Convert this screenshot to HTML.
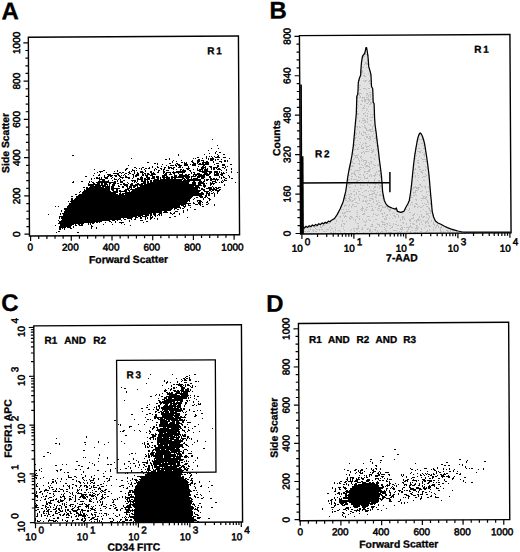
<!DOCTYPE html>
<html><head><meta charset="utf-8"><style>
html,body{margin:0;padding:0;background:#fff;width:520px;height:552px;overflow:hidden}
svg{display:block}
text{font-family:"Liberation Sans",sans-serif}
</style></head><body>
<svg width="520" height="552" viewBox="0 0 520 552">
<rect width="520" height="552" fill="#fff"/>
<path d="M302.8 226.9 L304.4 228.0 L306.0 226.3 L307.6 227.4 L309.2 225.7 L310.8 226.7 L312.4 225.0 L314.0 226.1 L315.6 224.4 L317.2 225.5 L318.8 223.7 L320.4 224.6 L322.0 222.9 L323.6 223.9 L325.2 222.2 L326.8 223.1 L328.4 221.1 L330.0 221.8 L330.8 220.8 L334.5 218.5 L337.3 214.4 L340.2 208.7 L343.1 201.9 L345.7 191.7 L346.8 184.0 L347.8 176.5 L349.0 170.0 L350.4 163.5 L352.0 155.0 L353.3 146.1 L354.4 134.0 L355.4 123.1 L356.3 113.5 L356.6 104.0 L356.8 96.2 L357.8 94.2 L358.1 88.0 L358.3 82.7 L359.2 78.8 L360.7 75.0 L360.8 70.8 L361.5 62.3 L362.5 56.2 L364.6 53.5 L365.2 51.5 L365.9 47.5 L366.6 47.5 L367.3 51.5 L368.1 57.7 L368.8 66.9 L370.4 72.3 L371.0 75.0 L371.5 86.5 L372.7 88.5 L373.2 101.9 L374.1 103.8 L374.6 118.3 L375.1 125.0 L376.2 133.0 L377.2 141.7 L378.3 150.0 L379.3 159.1 L380.5 168.0 L381.5 176.5 L382.1 184.0 L382.6 191.7 L384.3 200.4 L385.8 203.5 L387.6 205.9 L390.0 207.2 L392.0 208.0 L395.2 209.1 L396.3 208.0 L397.4 211.3 L400.7 212.4 L403.9 211.3 L406.0 207.0 L408.0 203.5 L409.3 200.4 L410.5 193.0 L411.5 185.2 L412.6 174.0 L413.7 163.5 L414.8 155.0 L415.9 148.3 L417.0 142.0 L418.0 137.4 L419.0 134.5 L420.2 133.0 L421.3 134.0 L422.4 136.3 L423.5 139.5 L424.6 143.9 L425.6 150.0 L426.7 157.0 L427.8 165.0 L428.9 174.3 L429.7 183.0 L430.4 191.7 L431.3 201.0 L432.2 211.3 L433.6 217.0 L435.4 221.0 L438.0 223.0 L440.9 224.3 L444.0 226.0 L447.4 227.6 L450.6 228.8 L453.9 229.8 L458.0 231.0 L462.6 232.0 L467.0 232.2 L510.5 232.2 L510.5 233.2 L302.6 233.8 Z" fill="#e2e2e2" stroke="none"/><path d="M367 52.5h1M364 53.5h2M365 54.5h2M367 55.5h2M363 56.5h2M363 57.5h1M367 60.5h1M365 62.5h2M365 63.5h3M364 64.5h1M366 64.5h2M362 67.5h2M366 67.5h1M368 67.5h1M361 70.5h2M361 71.5h2M361 72.5h2M360 73.5h1M364 73.5h1M368 73.5h1M363 75.5h2M369 75.5h2M364 76.5h2M359 79.5h1M359 80.5h1M363 80.5h1M365 80.5h2M369 80.5h2M364 81.5h2M368 81.5h2M369 83.5h2M359 85.5h2M359 87.5h1M363 88.5h3M368 88.5h2M359 89.5h2M366 89.5h1M369 92.5h2M357 93.5h5M366 93.5h2M372 93.5h1M359 94.5h1M367 94.5h1M369 94.5h2M359 95.5h1M366 95.5h1M368 95.5h1M370 95.5h1M373 95.5h1M357 96.5h1M360 96.5h1M368 96.5h1M370 96.5h1M357 97.5h1M359 97.5h2M362 97.5h3M366 97.5h2M370 97.5h1M357 98.5h1M362 98.5h1M364 98.5h1M368 98.5h1M372 98.5h1M356 99.5h1M364 99.5h7M372 99.5h1M361 100.5h2M364 100.5h2M368 100.5h2M358 101.5h1M362 101.5h1M364 101.5h2M369 101.5h1M372 101.5h1M368 102.5h1M370 102.5h3M366 103.5h2M370 103.5h2M356 104.5h2M360 104.5h2M369 104.5h2M356 105.5h1M364 105.5h1M358 106.5h1M364 106.5h1M368 106.5h1M363 107.5h1M356 108.5h2M362 108.5h3M366 108.5h1M356 109.5h1M367 109.5h1M362 110.5h1M366 110.5h1M357 111.5h1M368 111.5h1M365 112.5h1M357 113.5h2M363 113.5h2M367 113.5h1M357 114.5h2M363 114.5h1M370 114.5h1M372 114.5h2M365 115.5h1M367 115.5h1M365 116.5h1M367 116.5h1M372 116.5h1M357 117.5h1M370 117.5h3M362 118.5h2M367 118.5h1M364 119.5h1M367 119.5h1M359 120.5h1M362 120.5h4M370 120.5h2M359 121.5h1M365 121.5h1M367 121.5h1M361 122.5h1M364 122.5h2M367 122.5h1M363 123.5h1M368 124.5h1M370 124.5h1M364 125.5h1M370 125.5h1M373 125.5h1M356 126.5h2M359 126.5h1M362 126.5h1M365 126.5h1M372 126.5h1M357 127.5h1M359 127.5h2M364 127.5h2M372 127.5h1M365 128.5h2M372 128.5h1M375 128.5h1M357 129.5h1M366 129.5h1M369 129.5h4M366 130.5h5M374 130.5h2M359 131.5h1M363 131.5h1M370 131.5h4M354 132.5h2M359 132.5h1M363 132.5h3M376 132.5h1M355 133.5h2M359 133.5h1M361 133.5h1M365 133.5h1M373 133.5h1M356 134.5h1M361 134.5h1M366 134.5h1M368 134.5h1M354 135.5h2M362 135.5h2M372 135.5h1M358 136.5h1M366 136.5h2M369 136.5h2M372 136.5h1M375 136.5h1M355 137.5h2M366 137.5h2M370 137.5h1M375 137.5h1M354 138.5h2M359 138.5h2M364 138.5h1M368 138.5h3M374 138.5h3M422 138.5h1M354 139.5h1M365 139.5h1M370 139.5h1M377 139.5h1M419 139.5h1M421 139.5h3M354 140.5h1M357 140.5h1M369 140.5h1M377 140.5h1M373 141.5h1M353 142.5h1M360 142.5h1M365 142.5h1M375 142.5h1M363 143.5h1M365 143.5h2M421 143.5h2M354 144.5h1M356 144.5h1M359 144.5h1M362 144.5h1M377 144.5h1M418 144.5h1M424 144.5h1M354 145.5h2M361 145.5h1M365 145.5h1M369 145.5h2M376 145.5h1M423 145.5h2M361 146.5h1M366 146.5h3M377 146.5h2M358 147.5h1M362 147.5h2M366 147.5h1M357 148.5h1M361 148.5h3M371 148.5h1M415 148.5h1M418 148.5h2M423 148.5h2M354 149.5h2M357 149.5h2M366 149.5h2M369 149.5h1M373 149.5h1M376 149.5h1M371 150.5h3M421 150.5h1M363 151.5h1M365 151.5h4M372 151.5h2M417 151.5h4M425 151.5h1M361 152.5h2M364 152.5h1M371 152.5h2M419 152.5h2M422 152.5h1M425 152.5h1M353 153.5h1M361 153.5h1M364 153.5h1M414 153.5h2M424 153.5h1M353 154.5h1M358 154.5h1M375 154.5h1M423 154.5h2M354 155.5h4M375 155.5h1M416 155.5h1M424 155.5h1M355 156.5h1M357 156.5h1M360 156.5h2M419 156.5h1M424 156.5h1M355 157.5h3M360 157.5h1M370 157.5h2M426 157.5h1M354 158.5h1M358 158.5h1M361 158.5h1M374 158.5h1M415 158.5h1M421 158.5h1M353 159.5h1M358 159.5h1M362 159.5h1M374 159.5h1M422 159.5h4M359 160.5h1M361 160.5h1M363 160.5h4M417 160.5h2M352 161.5h1M359 161.5h1M363 161.5h1M366 161.5h1M370 161.5h2M379 161.5h1M423 161.5h1M425 161.5h2M351 162.5h2M365 162.5h2M368 162.5h1M371 162.5h1M417 162.5h2M353 163.5h2M358 163.5h2M365 163.5h1M369 163.5h1M371 163.5h1M418 163.5h1M350 164.5h1M359 164.5h1M361 164.5h1M364 164.5h2M369 164.5h1M373 164.5h1M378 164.5h2M413 164.5h2M350 165.5h1M352 165.5h1M362 165.5h1M366 165.5h2M374 165.5h2M377 165.5h2M351 166.5h3M365 166.5h5M418 166.5h2M425 166.5h1M349 167.5h1M359 167.5h3M363 167.5h1M369 167.5h1M374 167.5h1M418 167.5h2M426 167.5h1M359 168.5h1M364 168.5h1M372 168.5h1M415 168.5h1M427 168.5h1M350 169.5h2M360 169.5h1M369 169.5h2M414 169.5h2M419 169.5h2M425 169.5h1M349 170.5h1M355 170.5h5M368 170.5h2M378 170.5h3M422 170.5h2M425 170.5h1M354 171.5h1M364 171.5h2M367 171.5h3M376 171.5h1M378 171.5h2M420 171.5h2M354 172.5h1M358 172.5h1M364 172.5h1M376 172.5h1M414 172.5h1M421 172.5h2M351 173.5h4M366 173.5h2M375 173.5h1M380 173.5h2M414 173.5h1M417 173.5h1M422 173.5h1M351 174.5h1M354 174.5h2M359 174.5h2M363 174.5h1M370 174.5h1M375 174.5h1M377 174.5h1M379 174.5h1M425 174.5h1M428 174.5h1M348 175.5h2M355 175.5h1M363 175.5h1M369 175.5h1M371 175.5h1M373 175.5h3M379 175.5h1M415 175.5h1M418 175.5h1M426 175.5h1M428 175.5h1M351 176.5h2M356 176.5h1M358 176.5h1M364 176.5h1M369 176.5h1M371 176.5h1M374 176.5h1M380 176.5h1M412 176.5h2M415 176.5h1M423 176.5h3M358 177.5h3M364 177.5h1M367 177.5h1M380 177.5h1M415 177.5h1M418 177.5h1M422 177.5h1M351 178.5h1M364 178.5h4M375 178.5h1M348 179.5h2M351 179.5h1M353 179.5h4M360 179.5h1M374 179.5h1M347 180.5h2M357 180.5h3M362 180.5h1M368 180.5h1M374 180.5h1M378 180.5h2M417 180.5h1M423 180.5h2M356 181.5h2M368 181.5h1M374 181.5h1M378 181.5h2M351 182.5h1M359 182.5h2M364 182.5h1M368 182.5h1M376 182.5h1M381 182.5h2M349 183.5h1M351 183.5h1M371 183.5h1M373 183.5h4M381 183.5h2M348 184.5h3M360 184.5h1M367 184.5h1M375 184.5h1M378 184.5h1M419 184.5h2M346 185.5h1M355 185.5h1M360 185.5h1M362 185.5h2M367 185.5h1M379 185.5h2M420 185.5h1M346 186.5h1M348 186.5h1M355 186.5h1M369 186.5h1M374 186.5h2M380 186.5h2M415 186.5h1M421 186.5h2M424 186.5h2M428 186.5h1M349 187.5h2M369 187.5h1M374 187.5h2M377 187.5h1M379 187.5h1M413 187.5h7M425 187.5h1M428 187.5h1M360 188.5h2M373 188.5h1M379 188.5h1M382 188.5h1M413 188.5h1M416 188.5h3M425 188.5h1M430 188.5h1M354 189.5h1M357 189.5h1M382 189.5h1M412 189.5h1M418 189.5h1M350 190.5h1M365 190.5h2M370 190.5h2M374 190.5h2M415 190.5h3M422 190.5h1M353 191.5h2M358 191.5h2M364 191.5h1M368 191.5h1M372 191.5h2M380 191.5h1M415 191.5h1M420 191.5h2M426 191.5h1M428 191.5h1M356 192.5h1M362 192.5h1M374 192.5h1M377 192.5h1M413 192.5h3M426 192.5h1M350 193.5h2M356 193.5h1M372 193.5h3M413 193.5h1M344 194.5h1M348 194.5h2M351 194.5h1M354 194.5h1M356 194.5h1M359 194.5h2M369 194.5h4M375 194.5h2M379 194.5h2M382 194.5h1M415 194.5h1M427 194.5h1M344 195.5h3M354 195.5h1M362 195.5h2M369 195.5h1M376 195.5h1M379 195.5h2M382 195.5h1M411 195.5h1M413 195.5h2M416 195.5h1M422 195.5h1M429 195.5h1M349 196.5h2M358 196.5h1M364 196.5h3M372 196.5h1M375 196.5h1M382 196.5h1M423 196.5h2M426 196.5h1M344 197.5h2M349 197.5h1M351 197.5h1M358 197.5h1M364 197.5h1M366 197.5h1M375 197.5h2M383 197.5h1M411 197.5h2M423 197.5h1M425 197.5h2M344 198.5h3M348 198.5h2M354 198.5h2M359 198.5h1M369 198.5h4M382 198.5h2M421 198.5h5M345 199.5h1M349 199.5h2M354 199.5h1M359 199.5h1M372 199.5h2M415 199.5h2M426 199.5h1M345 200.5h2M349 200.5h2M352 200.5h2M359 200.5h1M363 200.5h1M365 200.5h1M367 200.5h1M369 200.5h2M376 200.5h1M378 200.5h1M410 200.5h1M416 200.5h1M421 200.5h1M427 200.5h1M431 200.5h1M347 201.5h2M351 201.5h2M362 201.5h2M365 201.5h2M373 201.5h1M376 201.5h1M427 201.5h1M355 202.5h2M366 202.5h1M373 202.5h1M378 202.5h2M411 202.5h2M427 202.5h2M357 203.5h2M368 203.5h2M377 203.5h1M415 203.5h2M422 203.5h1M424 203.5h1M430 203.5h2M345 204.5h1M349 204.5h1M352 204.5h2M367 204.5h1M371 204.5h1M376 204.5h2M410 204.5h1M412 204.5h1M416 204.5h2M425 204.5h2M428 204.5h1M430 204.5h1M344 205.5h3M349 205.5h1M352 205.5h1M379 205.5h3M408 205.5h1M414 205.5h1M423 205.5h1M344 206.5h1M348 206.5h1M351 206.5h1M354 206.5h3M362 206.5h1M369 206.5h1M371 206.5h2M378 206.5h2M382 206.5h1M385 206.5h2M414 206.5h2M418 206.5h2M422 206.5h1M426 206.5h2M340 207.5h1M351 207.5h1M362 207.5h1M366 207.5h2M375 207.5h1M382 207.5h4M387 207.5h1M389 207.5h1M414 207.5h1M417 207.5h1M420 207.5h2M428 207.5h1M361 208.5h3M372 208.5h1M378 208.5h2M387 208.5h1M390 208.5h1M409 208.5h1M428 208.5h2M341 209.5h1M343 209.5h1M346 209.5h1M348 209.5h1M360 209.5h1M362 209.5h1M365 209.5h2M372 209.5h1M377 209.5h1M381 209.5h1M388 209.5h3M405 209.5h2M409 209.5h1M423 209.5h1M429 209.5h1M357 210.5h1M361 210.5h2M366 210.5h1M371 210.5h3M378 210.5h1M380 210.5h2M389 210.5h2M396 210.5h1M408 210.5h1M429 210.5h2M432 210.5h1M346 211.5h5M364 211.5h1M380 211.5h1M389 211.5h1M396 211.5h1M420 211.5h1M425 211.5h2M430 211.5h1M342 212.5h1M344 212.5h2M356 212.5h2M384 212.5h1M393 212.5h1M401 212.5h1M409 212.5h2M430 212.5h1M342 213.5h3M363 213.5h2M373 213.5h1M381 213.5h2M384 213.5h1M392 213.5h1M394 213.5h1M402 213.5h1M414 213.5h1M426 213.5h3M430 213.5h1M357 214.5h1M362 214.5h3M373 214.5h1M375 214.5h1M378 214.5h1M382 214.5h1M387 214.5h1M390 214.5h1M396 214.5h2M413 214.5h2M417 214.5h1M421 214.5h1M426 214.5h2M336 215.5h1M343 215.5h1M345 215.5h1M376 215.5h2M386 215.5h2M393 215.5h2M398 215.5h1M412 215.5h2M421 215.5h1M428 215.5h1M433 215.5h1M336 216.5h1M339 216.5h2M344 216.5h3M350 216.5h2M356 216.5h2M359 216.5h1M367 216.5h3M372 216.5h1M382 216.5h2M385 216.5h1M394 216.5h2M398 216.5h1M402 216.5h2M419 216.5h1M421 216.5h1M423 216.5h2M429 216.5h1M340 217.5h1M344 217.5h1M349 217.5h1M351 217.5h2M357 217.5h1M386 217.5h1M395 217.5h1M398 217.5h1M402 217.5h2M413 217.5h1M419 217.5h1M422 217.5h2M426 217.5h1M429 217.5h1M335 218.5h1M349 218.5h2M359 218.5h1M384 218.5h1M386 218.5h1M389 218.5h1M392 218.5h1M402 218.5h1M404 218.5h1M411 218.5h3M418 218.5h1M428 218.5h1M333 219.5h2M350 219.5h1M353 219.5h1M355 219.5h1M359 219.5h1M362 219.5h1M368 219.5h1M375 219.5h2M384 219.5h3M400 219.5h1M402 219.5h1M404 219.5h1M409 219.5h2M417 219.5h2M420 219.5h1M428 219.5h1M331 220.5h1M336 220.5h1M342 220.5h1M355 220.5h1M366 220.5h1M369 220.5h2M400 220.5h1M409 220.5h2M414 220.5h1M416 220.5h4M423 220.5h1M427 220.5h1M431 220.5h1M336 221.5h1M342 221.5h1M346 221.5h1M363 221.5h2M366 221.5h1M373 221.5h1M381 221.5h2M396 221.5h1M410 221.5h1M416 221.5h1M421 221.5h1M425 221.5h3M431 221.5h1M435 221.5h1M355 222.5h1M365 222.5h1M382 222.5h3M402 222.5h2M416 222.5h1M421 222.5h1M425 222.5h2M428 222.5h1M433 222.5h1M324 223.5h3M328 223.5h2M335 223.5h1M343 223.5h2M357 223.5h2M377 223.5h1M386 223.5h2M389 223.5h1M393 223.5h1M403 223.5h1M406 223.5h1M410 223.5h1M412 223.5h2M419 223.5h1M425 223.5h1M428 223.5h1M433 223.5h1M438 223.5h1M318 224.5h1M341 224.5h1M344 224.5h1M365 224.5h1M371 224.5h2M377 224.5h3M382 224.5h4M387 224.5h1M393 224.5h1M395 224.5h2M406 224.5h1M413 224.5h2M419 224.5h1M422 224.5h1M433 224.5h2M437 224.5h1M312 225.5h1M322 225.5h3M341 225.5h1M358 225.5h1M364 225.5h2M372 225.5h1M379 225.5h1M384 225.5h1M389 225.5h2M397 225.5h2M400 225.5h2M410 225.5h1M416 225.5h1M425 225.5h1M428 225.5h2M434 225.5h1M436 225.5h2M442 225.5h1M315 226.5h2M320 226.5h1M322 226.5h1M330 226.5h1M341 226.5h1M343 226.5h1M358 226.5h1M370 226.5h3M379 226.5h1M381 226.5h1M386 226.5h1M392 226.5h1M409 226.5h2M416 226.5h2M426 226.5h1M429 226.5h2M436 226.5h1M438 226.5h1M441 226.5h1M309 227.5h1M314 227.5h1M320 227.5h2M329 227.5h1M335 227.5h1M358 227.5h1M362 227.5h1M375 227.5h2M384 227.5h1M391 227.5h2M401 227.5h2M404 227.5h1M406 227.5h4M411 227.5h2M416 227.5h1M418 227.5h1M424 227.5h1M433 227.5h1M435 227.5h1M438 227.5h1M440 227.5h2M310 228.5h1M315 228.5h1M331 228.5h2M343 228.5h1M353 228.5h2M356 228.5h3M362 228.5h1M367 228.5h2M385 228.5h1M390 228.5h1M397 228.5h1M400 228.5h1M402 228.5h1M408 228.5h1M415 228.5h3M421 228.5h1M435 228.5h1M440 228.5h1M303 229.5h2M308 229.5h1M310 229.5h1M313 229.5h1M316 229.5h2M319 229.5h1M321 229.5h2M326 229.5h3M335 229.5h1M351 229.5h1M356 229.5h2M361 229.5h2M367 229.5h1M369 229.5h2M374 229.5h2M384 229.5h1M400 229.5h3M408 229.5h1M417 229.5h1M421 229.5h1M429 229.5h1M433 229.5h1M440 229.5h1M312 230.5h2M319 230.5h1M330 230.5h1M335 230.5h1M338 230.5h2M344 230.5h1M350 230.5h1M354 230.5h1M369 230.5h2M375 230.5h1M377 230.5h1M385 230.5h2M393 230.5h4M407 230.5h1M412 230.5h1M415 230.5h2M427 230.5h1M429 230.5h1M433 230.5h1M440 230.5h1M446 230.5h2M450 230.5h1M452 230.5h4M303 231.5h3M307 231.5h3M313 231.5h1M315 231.5h2M323 231.5h2M326 231.5h1M333 231.5h1M340 231.5h1M354 231.5h1M359 231.5h1M369 231.5h2M372 231.5h1M377 231.5h1M381 231.5h2M386 231.5h1M399 231.5h1M401 231.5h1M406 231.5h2M410 231.5h1M420 231.5h2M426 231.5h2M440 231.5h2M443 231.5h1M447 231.5h2M450 231.5h1M456 231.5h1M303 232.5h1M330 232.5h2M333 232.5h1M335 232.5h1M340 232.5h1M344 232.5h1M351 232.5h1M356 232.5h2M363 232.5h1M371 232.5h1M376 232.5h1M378 232.5h1M380 232.5h1M382 232.5h1M386 232.5h1M388 232.5h4M397 232.5h2M400 232.5h1M410 232.5h1M414 232.5h2M417 232.5h1M425 232.5h1M429 232.5h1M440 232.5h1M443 232.5h1M449 232.5h1M457 232.5h1M461 232.5h1M463 232.5h2M482 232.5h1M490 232.5h2M507 232.5h2M304 233.5h1M310 233.5h4M335 233.5h1M337 233.5h1M340 233.5h2M343 233.5h2M346 233.5h1M360 233.5h3M364 233.5h1M376 233.5h2M382 233.5h1M390 233.5h2M394 233.5h2M409 233.5h1M415 233.5h3M420 233.5h2M425 233.5h2M429 233.5h1M435 233.5h1M437 233.5h1M440 233.5h1M449 233.5h1M452 233.5h1M461 233.5h1M464 233.5h2M472 233.5h3M482 233.5h1M495 233.5h2" stroke="#bebebe" stroke-width="1" fill="none"/><path d="M302.8 226.9 L304.4 228.0 L306.0 226.3 L307.6 227.4 L309.2 225.7 L310.8 226.7 L312.4 225.0 L314.0 226.1 L315.6 224.4 L317.2 225.5 L318.8 223.7 L320.4 224.6 L322.0 222.9 L323.6 223.9 L325.2 222.2 L326.8 223.1 L328.4 221.1 L330.0 221.8 L330.8 220.8 L334.5 218.5 L337.3 214.4 L340.2 208.7 L343.1 201.9 L345.7 191.7 L346.8 184.0 L347.8 176.5 L349.0 170.0 L350.4 163.5 L352.0 155.0 L353.3 146.1 L354.4 134.0 L355.4 123.1 L356.3 113.5 L356.6 104.0 L356.8 96.2 L357.8 94.2 L358.1 88.0 L358.3 82.7 L359.2 78.8 L360.7 75.0 L360.8 70.8 L361.5 62.3 L362.5 56.2 L364.6 53.5 L365.2 51.5 L365.9 47.5 L366.6 47.5 L367.3 51.5 L368.1 57.7 L368.8 66.9 L370.4 72.3 L371.0 75.0 L371.5 86.5 L372.7 88.5 L373.2 101.9 L374.1 103.8 L374.6 118.3 L375.1 125.0 L376.2 133.0 L377.2 141.7 L378.3 150.0 L379.3 159.1 L380.5 168.0 L381.5 176.5 L382.1 184.0 L382.6 191.7 L384.3 200.4 L385.8 203.5 L387.6 205.9 L390.0 207.2 L392.0 208.0 L395.2 209.1 L396.3 208.0 L397.4 211.3 L400.7 212.4 L403.9 211.3 L406.0 207.0 L408.0 203.5 L409.3 200.4 L410.5 193.0 L411.5 185.2 L412.6 174.0 L413.7 163.5 L414.8 155.0 L415.9 148.3 L417.0 142.0 L418.0 137.4 L419.0 134.5 L420.2 133.0 L421.3 134.0 L422.4 136.3 L423.5 139.5 L424.6 143.9 L425.6 150.0 L426.7 157.0 L427.8 165.0 L428.9 174.3 L429.7 183.0 L430.4 191.7 L431.3 201.0 L432.2 211.3 L433.6 217.0 L435.4 221.0 L438.0 223.0 L440.9 224.3 L444.0 226.0 L447.4 227.6 L450.6 228.8 L453.9 229.8 L458.0 231.0 L462.6 232.0 L467.0 232.2 L510.5 232.2" fill="none" stroke="#000" stroke-width="1.25" stroke-linejoin="round"/><path d="M300.2 84.5 L301.9 84.5 L302.4 234 L300.7 234 Z" fill="#000"/><path d="M300.4 156.3 L303.5 156.3 L303.9 234 L300.9 234 Z" fill="#000"/><path d="M300.5 182.9 L389.9 182.4 M389.9 172.0 L389.9 192.2" stroke="#000" stroke-width="1.5" fill="none"/><path d="M212 139.5h1M217 145.5h1M211 148.5h1M218 148.5h1M208 150.5h1M216 151.5h1M215 152.5h1M219 152.5h2M209 153.5h1M215 153.5h1M178 154.5h1M204 154.5h1M217 154.5h1M223 154.5h2M72 155.5h2M178 155.5h1M218 155.5h1M206 156.5h1M209 156.5h1M211 156.5h1M214 156.5h1M217 156.5h2M197 157.5h2M206 157.5h1M212 157.5h1M215 157.5h5M223 157.5h3M131 158.5h1M169 158.5h1M193 158.5h1M195 158.5h1M202 158.5h1M206 158.5h1M208 158.5h1M210 158.5h4M229 158.5h1M165 159.5h2M169 159.5h1M198 159.5h2M208 159.5h1M210 159.5h4M215 159.5h1M217 159.5h2M221 159.5h1M173 160.5h1M181 160.5h1M192 160.5h1M197 160.5h3M201 160.5h3M210 160.5h3M215 160.5h1M224 160.5h2M227 160.5h1M172 161.5h1M176 161.5h1M191 161.5h2M197 161.5h3M203 161.5h1M206 161.5h2M213 161.5h1M219 161.5h3M224 161.5h2M227 161.5h1M147 162.5h2M172 162.5h1M181 162.5h2M184 162.5h1M186 162.5h1M192 162.5h2M197 162.5h2M202 162.5h7M213 162.5h1M221 162.5h1M154 163.5h2M157 163.5h1M169 163.5h2M176 163.5h2M184 163.5h3M193 163.5h3M197 163.5h1M199 163.5h2M202 163.5h2M205 163.5h4M216 163.5h3M157 164.5h1M162 164.5h1M175 164.5h1M177 164.5h3M184 164.5h4M190 164.5h1M192 164.5h4M198 164.5h11M214 164.5h1M222 164.5h3M230 164.5h2M128 165.5h1M166 165.5h1M170 165.5h4M175 165.5h2M178 165.5h4M184 165.5h4M192 165.5h4M203 165.5h2M217 165.5h2M222 165.5h3M152 166.5h1M157 166.5h1M161 166.5h1M168 166.5h1M176 166.5h1M179 166.5h2M188 166.5h1M198 166.5h1M202 166.5h2M205 166.5h1M209 166.5h3M217 166.5h2M225 166.5h1M227 166.5h1M134 167.5h2M142 167.5h2M149 167.5h1M152 167.5h1M157 167.5h2M164 167.5h2M168 167.5h4M173 167.5h2M178 167.5h3M182 167.5h1M188 167.5h1M201 167.5h5M210 167.5h2M213 167.5h5M222 167.5h2M225 167.5h1M126 168.5h2M136 168.5h1M139 168.5h1M141 168.5h1M145 168.5h2M148 168.5h2M155 168.5h1M160 168.5h2M164 168.5h1M168 168.5h2M171 168.5h3M186 168.5h4M197 168.5h1M201 168.5h3M205 168.5h1M207 168.5h1M211 168.5h1M213 168.5h2M216 168.5h1M218 168.5h2M224 168.5h1M231 168.5h1M94 169.5h1M125 169.5h2M132 169.5h1M141 169.5h1M144 169.5h1M154 169.5h1M156 169.5h1M161 169.5h1M163 169.5h2M173 169.5h1M176 169.5h1M180 169.5h2M183 169.5h1M187 169.5h2M193 169.5h1M197 169.5h1M199 169.5h4M204 169.5h4M211 169.5h1M213 169.5h2M217 169.5h4M226 169.5h1M231 169.5h1M103 170.5h2M117 170.5h1M125 170.5h1M132 170.5h3M136 170.5h1M145 170.5h1M154 170.5h1M158 170.5h2M163 170.5h1M166 170.5h3M180 170.5h1M182 170.5h4M189 170.5h2M197 170.5h4M202 170.5h1M204 170.5h4M221 170.5h1M226 170.5h1M99 171.5h4M114 171.5h1M117 171.5h1M129 171.5h1M131 171.5h1M134 171.5h1M140 171.5h3M145 171.5h1M150 171.5h2M158 171.5h1M163 171.5h2M173 171.5h1M176 171.5h10M190 171.5h1M199 171.5h13M214 171.5h4M219 171.5h1M231 171.5h1M97 172.5h1M100 172.5h1M106 172.5h1M119 172.5h2M122 172.5h2M128 172.5h2M134 172.5h1M137 172.5h1M140 172.5h4M150 172.5h2M153 172.5h1M157 172.5h2M163 172.5h2M166 172.5h5M172 172.5h13M191 172.5h1M193 172.5h2M202 172.5h5M209 172.5h3M214 172.5h4M219 172.5h1M221 172.5h1M223 172.5h1M226 172.5h1M231 172.5h1M237 172.5h1M94 173.5h1M113 173.5h6M121 173.5h1M125 173.5h2M129 173.5h2M134 173.5h1M137 173.5h2M142 173.5h1M144 173.5h2M147 173.5h2M151 173.5h4M163 173.5h1M165 173.5h2M170 173.5h1M173 173.5h2M178 173.5h1M182 173.5h1M191 173.5h1M194 173.5h1M197 173.5h3M204 173.5h4M209 173.5h2M214 173.5h1M216 173.5h3M221 173.5h4M99 174.5h1M107 174.5h4M117 174.5h2M124 174.5h1M128 174.5h1M132 174.5h2M136 174.5h3M142 174.5h2M145 174.5h1M147 174.5h3M151 174.5h5M164 174.5h3M169 174.5h3M174 174.5h1M179 174.5h4M185 174.5h2M188 174.5h2M193 174.5h9M203 174.5h7M214 174.5h5M220 174.5h3M93 175.5h1M98 175.5h2M104 175.5h1M108 175.5h5M114 175.5h3M118 175.5h2M121 175.5h1M123 175.5h1M125 175.5h1M133 175.5h1M135 175.5h4M142 175.5h2M145 175.5h3M150 175.5h3M162 175.5h5M174 175.5h3M179 175.5h10M193 175.5h1M195 175.5h2M198 175.5h7M206 175.5h3M214 175.5h5M221 175.5h2M228 175.5h1M85 176.5h2M104 176.5h1M107 176.5h2M110 176.5h2M115 176.5h2M119 176.5h2M125 176.5h2M133 176.5h1M135 176.5h2M141 176.5h1M146 176.5h2M152 176.5h3M156 176.5h3M162 176.5h3M166 176.5h2M171 176.5h2M174 176.5h3M178 176.5h12M191 176.5h5M197 176.5h8M209 176.5h2M219 176.5h1M223 176.5h1M229 176.5h1M96 177.5h2M99 177.5h1M101 177.5h1M104 177.5h4M112 177.5h1M120 177.5h4M125 177.5h5M133 177.5h1M140 177.5h3M146 177.5h4M152 177.5h3M156 177.5h3M160 177.5h1M162 177.5h8M171 177.5h13M185 177.5h5M191 177.5h1M197 177.5h3M201 177.5h4M209 177.5h2M219 177.5h1M221 177.5h1M223 177.5h2M229 177.5h1M91 178.5h1M94 178.5h1M96 178.5h4M101 178.5h1M105 178.5h3M111 178.5h1M114 178.5h1M119 178.5h1M122 178.5h1M128 178.5h2M132 178.5h1M137 178.5h2M140 178.5h3M144 178.5h2M147 178.5h3M151 178.5h4M157 178.5h2M160 178.5h1M163 178.5h2M166 178.5h4M171 178.5h2M174 178.5h2M182 178.5h3M186 178.5h3M191 178.5h1M193 178.5h5M201 178.5h3M210 178.5h2M213 178.5h2M216 178.5h1M221 178.5h1M225 178.5h2M231 178.5h2M91 179.5h1M99 179.5h6M114 179.5h3M118 179.5h1M120 179.5h1M137 179.5h6M144 179.5h6M154 179.5h5M160 179.5h23M184 179.5h2M187 179.5h14M204 179.5h1M206 179.5h3M210 179.5h9M224 179.5h1M99 180.5h1M102 180.5h3M108 180.5h1M112 180.5h1M117 180.5h1M120 180.5h1M123 180.5h2M131 180.5h5M137 180.5h1M141 180.5h2M144 180.5h2M147 180.5h1M150 180.5h2M153 180.5h29M183 180.5h18M204 180.5h1M206 180.5h2M210 180.5h2M215 180.5h1M217 180.5h1M222 180.5h1M224 180.5h3M73 181.5h1M81 181.5h2M89 181.5h1M91 181.5h1M98 181.5h11M114 181.5h2M117 181.5h1M120 181.5h3M132 181.5h1M134 181.5h2M137 181.5h1M141 181.5h5M147 181.5h2M150 181.5h2M153 181.5h37M193 181.5h2M199 181.5h3M203 181.5h2M212 181.5h4M221 181.5h1M223 181.5h1M72 182.5h2M89 182.5h1M92 182.5h2M96 182.5h20M120 182.5h3M127 182.5h1M134 182.5h1M136 182.5h1M143 182.5h3M147 182.5h2M150 182.5h39M192 182.5h4M198 182.5h6M210 182.5h1M212 182.5h1M215 182.5h2M219 182.5h1M221 182.5h2M235 182.5h1M88 183.5h1M93 183.5h2M97 183.5h3M101 183.5h2M104 183.5h3M109 183.5h2M113 183.5h3M117 183.5h2M123 183.5h2M128 183.5h1M131 183.5h2M137 183.5h2M141 183.5h5M147 183.5h42M192 183.5h4M198 183.5h7M206 183.5h1M210 183.5h5M88 184.5h12M101 184.5h2M104 184.5h4M109 184.5h1M112 184.5h3M120 184.5h2M123 184.5h5M130 184.5h3M135 184.5h8M144 184.5h52M198 184.5h3M203 184.5h2M210 184.5h2M213 184.5h1M224 184.5h1M88 185.5h6M95 185.5h11M107 185.5h1M109 185.5h1M112 185.5h3M118 185.5h1M124 185.5h4M130 185.5h8M139 185.5h63M203 185.5h3M210 185.5h1M224 185.5h1M90 186.5h11M102 186.5h8M111 186.5h3M118 186.5h2M122 186.5h2M126 186.5h2M129 186.5h3M133 186.5h3M137 186.5h1M140 186.5h54M195 186.5h4M203 186.5h3M212 186.5h1M83 187.5h2M86 187.5h2M89 187.5h15M105 187.5h5M111 187.5h3M122 187.5h2M127 187.5h1M129 187.5h3M133 187.5h2M137 187.5h63M204 187.5h1M208 187.5h4M213 187.5h1M215 187.5h2M218 187.5h3M86 188.5h24M111 188.5h9M127 188.5h3M131 188.5h1M135 188.5h63M199 188.5h1M201 188.5h2M206 188.5h6M213 188.5h2M216 188.5h3M84 189.5h1M86 189.5h24M111 189.5h3M116 189.5h2M125 189.5h4M130 189.5h68M201 189.5h4M209 189.5h8M219 189.5h2M84 190.5h26M112 190.5h2M116 190.5h2M119 190.5h2M124 190.5h3M128 190.5h2M132 190.5h69M203 190.5h2M209 190.5h2M212 190.5h2M215 190.5h5M80 191.5h1M83 191.5h28M113 191.5h5M119 191.5h8M129 191.5h1M131 191.5h69M204 191.5h5M211 191.5h1M217 191.5h2M79 192.5h1M82 192.5h36M120 192.5h1M125 192.5h74M201 192.5h2M206 192.5h2M209 192.5h1M213 192.5h1M217 192.5h1M82 193.5h34M119 193.5h2M122 193.5h82M206 193.5h4M211 193.5h2M214 193.5h1M217 193.5h1M75 194.5h2M79 194.5h39M119 194.5h5M125 194.5h79M206 194.5h1M208 194.5h2M214 194.5h1M78 195.5h124M205 195.5h2M208 195.5h2M214 195.5h1M71 196.5h2M76 196.5h117M199 196.5h4M205 196.5h2M214 196.5h1M76 197.5h116M196 197.5h2M200 197.5h3M204 197.5h2M207 197.5h1M71 198.5h2M75 198.5h116M194 198.5h1M203 198.5h1M208 198.5h2M71 199.5h2M74 199.5h116M193 199.5h1M203 199.5h1M209 199.5h2M71 200.5h119M197 200.5h4M209 200.5h1M68 201.5h1M70 201.5h118M189 201.5h1M197 201.5h1M199 201.5h3M207 201.5h1M71 202.5h116M193 202.5h1M198 202.5h3M202 202.5h1M206 202.5h2M69 203.5h122M193 203.5h2M198 203.5h3M208 203.5h1M69 204.5h117M188 204.5h1M195 204.5h3M199 204.5h2M202 204.5h1M206 204.5h2M214 204.5h1M68 205.5h112M181 205.5h3M185 205.5h1M188 205.5h3M200 205.5h1M214 205.5h1M55 206.5h1M58 206.5h1M67 206.5h113M183 206.5h3M202 206.5h2M67 207.5h114M184 207.5h1M190 207.5h1M64 208.5h109M174 208.5h3M180 208.5h1M182 208.5h2M64 209.5h108M174 209.5h1M177 209.5h2M187 209.5h1M194 209.5h2M61 210.5h1M65 210.5h106M183 210.5h1M187 210.5h1M61 211.5h1M64 211.5h98M164 211.5h3M175 211.5h3M183 211.5h1M64 212.5h98M163 212.5h5M170 212.5h1M174 212.5h1M183 212.5h1M60 213.5h1M62 213.5h90M153 213.5h3M159 213.5h3M170 213.5h2M173 213.5h2M179 213.5h1M48 214.5h1M60 214.5h1M63 214.5h86M150 214.5h2M153 214.5h3M158 214.5h2M161 214.5h1M172 214.5h1M179 214.5h1M63 215.5h80M145 215.5h4M150 215.5h2M154 215.5h2M157 215.5h1M159 215.5h1M161 215.5h1M59 216.5h78M138 216.5h3M142 216.5h5M150 216.5h1M152 216.5h1M155 216.5h1M174 216.5h2M59 217.5h1M61 217.5h72M135 217.5h3M140 217.5h2M145 217.5h1M147 217.5h1M150 217.5h3M169 217.5h2M187 217.5h1M59 218.5h1M61 218.5h60M123 218.5h1M127 218.5h5M135 218.5h1M140 218.5h2M145 218.5h1M147 218.5h1M150 218.5h2M154 218.5h1M157 218.5h1M62 219.5h59M124 219.5h2M131 219.5h1M134 219.5h2M145 219.5h1M150 219.5h1M157 219.5h1M58 220.5h1M61 220.5h49M112 220.5h3M117 220.5h1M121 220.5h1M129 220.5h1M140 220.5h3M59 221.5h43M109 221.5h2M115 221.5h1M129 221.5h1M146 221.5h2M59 222.5h36M96 222.5h2M99 222.5h1M105 222.5h1M111 222.5h1M115 222.5h1M119 222.5h5M143 222.5h1M58 223.5h26M88 223.5h1M90 223.5h1M92 223.5h2M121 223.5h1M60 224.5h14M75 224.5h1M78 224.5h2M81 224.5h2M88 224.5h1M90 224.5h1M103 224.5h1M112 224.5h1M124 224.5h1M55 225.5h1M60 225.5h12M75 225.5h2M79 225.5h4M91 225.5h1M130 225.5h1M59 226.5h12M73 226.5h1M91 226.5h2M59 227.5h7M67 227.5h4M73 227.5h1M91 227.5h1M96 227.5h1M59 228.5h2M62 228.5h1M64 228.5h1M70 228.5h2M91 228.5h1M96 228.5h1M59 229.5h2M64 229.5h1M58 231.5h2M56 232.5h1M77 232.5h2M150 374.5h1M172 374.5h1M194 374.5h2M189 375.5h1M186 376.5h2M185 377.5h1M189 377.5h1M148 378.5h1M176 378.5h1M183 378.5h2M186 378.5h2M189 378.5h1M181 379.5h1M184 379.5h2M189 379.5h2M164 380.5h1M182 380.5h1M184 380.5h3M189 380.5h2M164 381.5h1M167 381.5h1M177 381.5h1M181 381.5h1M195 381.5h2M198 381.5h1M166 382.5h2M170 382.5h1M177 382.5h1M184 382.5h3M146 383.5h1M166 383.5h1M179 383.5h1M190 383.5h2M173 384.5h2M176 384.5h7M185 384.5h1M187 384.5h2M162 385.5h1M171 385.5h1M178 385.5h4M183 385.5h1M185 385.5h1M187 385.5h3M192 385.5h1M171 386.5h1M180 386.5h3M185 386.5h1M190 386.5h1M192 386.5h1M195 386.5h1M121 387.5h1M173 387.5h2M176 387.5h1M181 387.5h4M191 387.5h2M124 388.5h2M168 388.5h1M171 388.5h1M173 388.5h2M181 388.5h4M187 388.5h2M137 389.5h1M165 389.5h1M170 389.5h2M181 389.5h3M185 389.5h4M190 389.5h1M164 390.5h3M170 390.5h1M173 390.5h3M177 390.5h2M180 390.5h4M185 390.5h4M190 390.5h1M126 391.5h1M164 391.5h2M174 391.5h6M181 391.5h9M192 391.5h1M126 392.5h1M166 392.5h2M169 392.5h1M171 392.5h2M176 392.5h4M181 392.5h1M183 392.5h5M162 393.5h1M167 393.5h6M175 393.5h13M156 394.5h1M159 394.5h1M167 394.5h10M180 394.5h8M155 395.5h1M159 395.5h1M169 395.5h11M181 395.5h8M190 395.5h1M194 395.5h1M150 396.5h2M161 396.5h2M166 396.5h22M194 396.5h1M197 396.5h2M164 397.5h3M168 397.5h19M188 397.5h1M190 397.5h1M158 398.5h1M164 398.5h3M168 398.5h4M174 398.5h13M188 398.5h1M194 398.5h1M162 399.5h3M166 399.5h17M196 399.5h1M124 400.5h1M158 400.5h2M164 400.5h19M186 400.5h2M189 400.5h1M159 401.5h2M162 401.5h13M177 401.5h1M180 401.5h3M187 401.5h1M193 401.5h1M198 401.5h1M159 402.5h13M173 402.5h2M176 402.5h6M185 402.5h2M193 402.5h1M156 403.5h2M160 403.5h2M163 403.5h6M170 403.5h12M185 403.5h2M198 403.5h1M200 403.5h1M149 404.5h1M160 404.5h1M165 404.5h3M170 404.5h2M173 404.5h4M178 404.5h3M185 404.5h1M194 404.5h1M198 404.5h3M147 405.5h1M158 405.5h2M164 405.5h4M169 405.5h7M177 405.5h4M184 405.5h1M192 405.5h2M196 405.5h1M156 406.5h1M158 406.5h2M163 406.5h18M184 406.5h1M146 407.5h2M154 407.5h1M156 407.5h1M159 407.5h1M161 407.5h12M174 407.5h2M177 407.5h4M141 408.5h2M156 408.5h1M159 408.5h1M161 408.5h18M180 408.5h2M183 408.5h2M148 409.5h2M153 409.5h1M156 409.5h3M162 409.5h20M183 409.5h2M189 409.5h1M157 410.5h2M162 410.5h1M164 410.5h4M169 410.5h14M189 410.5h1M197 410.5h1M200 410.5h1M142 411.5h1M155 411.5h2M160 411.5h2M163 411.5h6M170 411.5h4M175 411.5h6M182 411.5h1M186 411.5h1M193 411.5h2M155 412.5h1M158 412.5h2M161 412.5h3M165 412.5h4M170 412.5h7M183 412.5h1M185 412.5h1M149 413.5h2M161 413.5h19M201 413.5h2M131 414.5h2M146 414.5h2M152 414.5h1M155 414.5h2M161 414.5h13M175 414.5h5M185 414.5h2M195 414.5h1M155 415.5h2M162 415.5h18M185 415.5h1M195 415.5h2M154 416.5h3M162 416.5h11M174 416.5h5M180 416.5h2M184 416.5h1M194 416.5h2M145 417.5h1M154 417.5h20M175 417.5h11M154 418.5h2M157 418.5h2M160 418.5h3M164 418.5h17M202 418.5h1M134 419.5h1M147 419.5h2M150 419.5h1M158 419.5h7M166 419.5h12M179 419.5h4M184 419.5h1M114 420.5h2M152 420.5h1M160 420.5h7M168 420.5h2M171 420.5h14M186 420.5h1M146 421.5h1M160 421.5h10M172 421.5h3M176 421.5h3M182 421.5h2M156 422.5h2M160 422.5h8M170 422.5h5M176 422.5h4M182 422.5h2M187 422.5h4M160 423.5h8M169 423.5h6M176 423.5h6M118 424.5h1M120 424.5h1M138 424.5h1M144 424.5h1M156 424.5h1M159 424.5h20M181 424.5h2M187 424.5h1M198 424.5h1M120 425.5h1M156 425.5h1M159 425.5h21M182 425.5h1M129 426.5h3M153 426.5h2M159 426.5h22M184 426.5h2M194 426.5h2M129 427.5h1M150 427.5h1M153 427.5h2M156 427.5h2M163 427.5h3M167 427.5h14M184 427.5h2M188 427.5h1M152 428.5h2M157 428.5h1M160 428.5h9M171 428.5h8M180 428.5h2M192 428.5h1M212 428.5h1M152 429.5h1M157 429.5h23M182 429.5h1M188 429.5h1M123 430.5h2M134 430.5h1M139 430.5h1M149 430.5h1M156 430.5h23M182 430.5h3M188 430.5h2M120 431.5h1M122 431.5h2M140 431.5h1M149 431.5h2M158 431.5h22M184 431.5h1M187 431.5h1M199 431.5h1M146 432.5h1M150 432.5h1M159 432.5h7M167 432.5h10M178 432.5h2M185 432.5h1M193 432.5h1M149 433.5h1M155 433.5h1M159 433.5h4M164 433.5h16M151 434.5h3M155 434.5h2M158 434.5h23M182 434.5h1M184 434.5h2M125 435.5h2M152 435.5h4M158 435.5h15M174 435.5h5M180 435.5h1M182 435.5h4M86 436.5h1M152 436.5h4M158 436.5h17M176 436.5h1M178 436.5h2M181 436.5h1M183 436.5h3M187 436.5h2M86 437.5h1M147 437.5h1M150 437.5h4M157 437.5h5M163 437.5h6M170 437.5h10M181 437.5h1M187 437.5h2M56 438.5h1M149 438.5h2M153 438.5h1M155 438.5h1M157 438.5h17M176 438.5h3M181 438.5h5M187 438.5h1M189 438.5h1M191 438.5h1M150 439.5h1M153 439.5h1M155 439.5h1M157 439.5h12M170 439.5h9M180 439.5h1M182 439.5h2M186 439.5h1M191 439.5h1M157 440.5h15M174 440.5h9M186 440.5h1M197 440.5h1M98 441.5h1M121 441.5h1M147 441.5h1M157 441.5h26M197 441.5h1M205 441.5h1M84 442.5h2M98 442.5h1M108 442.5h1M144 442.5h1M151 442.5h2M157 442.5h24M184 442.5h1M194 442.5h1M55 443.5h2M59 443.5h1M124 443.5h1M142 443.5h1M144 443.5h1M147 443.5h2M157 443.5h2M160 443.5h20M183 443.5h2M59 444.5h1M85 444.5h1M104 444.5h1M144 444.5h1M147 444.5h2M157 444.5h11M169 444.5h14M185 444.5h2M192 444.5h1M145 445.5h1M149 445.5h1M152 445.5h1M154 445.5h2M158 445.5h5M164 445.5h4M169 445.5h14M186 445.5h2M145 446.5h1M147 446.5h1M149 446.5h1M154 446.5h2M158 446.5h25M188 446.5h1M94 447.5h1M145 447.5h1M147 447.5h2M151 447.5h2M155 447.5h25M182 447.5h2M155 448.5h20M176 448.5h3M203 448.5h2M153 449.5h7M161 449.5h4M166 449.5h14M184 449.5h3M394 449.5h2M83 450.5h2M148 450.5h2M152 450.5h2M155 450.5h14M170 450.5h10M183 450.5h1M187 450.5h1M148 451.5h2M152 451.5h1M156 451.5h14M171 451.5h11M183 451.5h1M191 451.5h1M47 452.5h2M151 452.5h4M156 452.5h21M178 452.5h2M182 452.5h2M50 453.5h1M131 453.5h2M135 453.5h1M148 453.5h1M150 453.5h4M155 453.5h16M174 453.5h1M176 453.5h5M182 453.5h2M188 453.5h4M99 454.5h1M129 454.5h1M145 454.5h1M148 454.5h1M150 454.5h4M155 454.5h21M177 454.5h5M397 454.5h2M99 455.5h1M146 455.5h1M148 455.5h2M151 455.5h12M164 455.5h12M177 455.5h1M179 455.5h3M185 455.5h2M191 455.5h2M43 456.5h2M145 456.5h2M148 456.5h2M151 456.5h1M153 456.5h10M164 456.5h19M184 456.5h4M191 456.5h2M382 456.5h2M83 457.5h1M85 457.5h1M107 457.5h1M148 457.5h2M155 457.5h8M164 457.5h7M173 457.5h2M176 457.5h5M184 457.5h3M188 457.5h1M197 457.5h1M98 458.5h1M107 458.5h1M133 458.5h1M144 458.5h1M154 458.5h27M197 458.5h1M117 459.5h2M133 459.5h1M149 459.5h1M154 459.5h1M156 459.5h28M370 459.5h2M394 459.5h1M459 459.5h2M136 460.5h1M147 460.5h1M149 460.5h1M152 460.5h1M154 460.5h24M179 460.5h4M186 460.5h1M195 460.5h1M380 460.5h2M467 460.5h1M76 461.5h2M98 461.5h1M128 461.5h2M138 461.5h1M147 461.5h1M152 461.5h28M184 461.5h1M186 461.5h1M188 461.5h1M370 461.5h1M466 461.5h1M484 461.5h2M89 462.5h1M114 462.5h1M138 462.5h1M142 462.5h6M150 462.5h1M153 462.5h11M165 462.5h2M168 462.5h12M181 462.5h2M193 462.5h1M372 462.5h1M380 462.5h1M446 462.5h2M466 462.5h1M92 463.5h1M124 463.5h1M130 463.5h1M133 463.5h2M146 463.5h2M150 463.5h2M153 463.5h8M162 463.5h14M177 463.5h3M185 463.5h3M349 463.5h1M363 463.5h1M372 463.5h1M415 463.5h1M35 464.5h1M62 464.5h1M66 464.5h1M94 464.5h1M107 464.5h2M110 464.5h2M124 464.5h1M139 464.5h1M143 464.5h2M151 464.5h1M153 464.5h23M177 464.5h3M184 464.5h3M441 464.5h2M459 464.5h1M462 464.5h1M55 465.5h2M78 465.5h2M94 465.5h1M135 465.5h1M139 465.5h1M144 465.5h1M148 465.5h2M151 465.5h2M154 465.5h3M159 465.5h9M170 465.5h2M173 465.5h8M182 465.5h2M188 465.5h1M197 465.5h1M375 465.5h2M444 465.5h2M448 465.5h2M462 465.5h1M81 466.5h2M128 466.5h1M135 466.5h1M145 466.5h2M148 466.5h2M152 466.5h1M154 466.5h25M181 466.5h4M188 466.5h2M197 466.5h1M376 466.5h1M465 466.5h1M88 467.5h1M117 467.5h1M130 467.5h1M138 467.5h1M143 467.5h1M148 467.5h2M152 467.5h1M154 467.5h6M162 467.5h1M164 467.5h13M179 467.5h3M183 467.5h2M186 467.5h1M437 467.5h1M465 467.5h1M41 468.5h1M87 468.5h2M115 468.5h1M125 468.5h2M130 468.5h1M147 468.5h3M152 468.5h1M156 468.5h25M184 468.5h2M187 468.5h2M366 468.5h1M371 468.5h1M375 468.5h2M380 468.5h1M410 468.5h1M424 468.5h3M433 468.5h1M437 468.5h1M443 468.5h1M449 468.5h1M466 468.5h1M469 468.5h1M471 468.5h2M483 468.5h1M39 469.5h1M60 469.5h2M75 469.5h2M80 469.5h1M110 469.5h1M120 469.5h1M141 469.5h1M145 469.5h1M147 469.5h3M153 469.5h1M155 469.5h5M161 469.5h21M184 469.5h4M192 469.5h1M344 469.5h1M355 469.5h2M361 469.5h2M371 469.5h1M373 469.5h1M376 469.5h1M380 469.5h1M411 469.5h2M417 469.5h1M431 469.5h1M433 469.5h2M443 469.5h1M446 469.5h1M449 469.5h1M454 469.5h1M478 469.5h1M483 469.5h1M35 470.5h2M39 470.5h1M56 470.5h2M60 470.5h1M97 470.5h2M110 470.5h1M131 470.5h1M147 470.5h4M153 470.5h3M157 470.5h7M165 470.5h7M173 470.5h11M186 470.5h2M347 470.5h2M354 470.5h2M358 470.5h1M360 470.5h3M372 470.5h2M415 470.5h1M420 470.5h1M434 470.5h2M453 470.5h1M41 471.5h1M57 471.5h1M83 471.5h1M105 471.5h1M110 471.5h1M131 471.5h1M141 471.5h2M146 471.5h1M148 471.5h1M151 471.5h5M157 471.5h26M350 471.5h1M358 471.5h1M360 471.5h1M364 471.5h1M373 471.5h3M379 471.5h1M427 471.5h1M436 471.5h1M438 471.5h1M443 471.5h1M449 471.5h2M453 471.5h1M457 471.5h1M64 472.5h1M67 472.5h2M83 472.5h1M127 472.5h1M137 472.5h1M140 472.5h1M144 472.5h1M146 472.5h34M182 472.5h2M187 472.5h1M350 472.5h1M356 472.5h1M359 472.5h2M362 472.5h1M370 472.5h1M372 472.5h2M378 472.5h1M380 472.5h1M385 472.5h4M411 472.5h1M436 472.5h1M439 472.5h2M476 472.5h1M36 473.5h1M103 473.5h1M125 473.5h1M127 473.5h1M143 473.5h1M147 473.5h35M187 473.5h1M189 473.5h2M196 473.5h1M355 473.5h1M360 473.5h3M372 473.5h1M377 473.5h2M380 473.5h1M410 473.5h1M417 473.5h1M422 473.5h1M425 473.5h1M427 473.5h1M433 473.5h1M436 473.5h1M444 473.5h1M446 473.5h2M456 473.5h2M460 473.5h1M35 474.5h1M81 474.5h1M145 474.5h38M184 474.5h2M191 474.5h1M346 474.5h1M349 474.5h1M369 474.5h3M378 474.5h2M381 474.5h4M388 474.5h2M401 474.5h1M403 474.5h1M413 474.5h1M420 474.5h1M423 474.5h1M426 474.5h1M428 474.5h2M431 474.5h1M433 474.5h2M440 474.5h2M443 474.5h3M459 474.5h2M35 475.5h3M68 475.5h1M85 475.5h1M94 475.5h1M134 475.5h1M145 475.5h36M190 475.5h2M349 475.5h1M359 475.5h1M364 475.5h1M366 475.5h1M369 475.5h1M371 475.5h1M375 475.5h5M389 475.5h1M401 475.5h1M403 475.5h1M420 475.5h2M424 475.5h1M430 475.5h2M437 475.5h1M441 475.5h3M448 475.5h1M68 476.5h1M74 476.5h2M85 476.5h1M91 476.5h1M103 476.5h2M110 476.5h2M137 476.5h44M182 476.5h2M190 476.5h1M366 476.5h1M369 476.5h1M375 476.5h3M381 476.5h3M402 476.5h1M406 476.5h1M417 476.5h1M428 476.5h1M432 476.5h2M435 476.5h2M441 476.5h4M446 476.5h4M454 476.5h1M35 477.5h2M43 477.5h1M68 477.5h4M76 477.5h1M82 477.5h2M91 477.5h1M127 477.5h1M140 477.5h44M189 477.5h1M347 477.5h1M350 477.5h4M358 477.5h2M361 477.5h1M364 477.5h1M366 477.5h2M382 477.5h1M406 477.5h1M412 477.5h3M421 477.5h1M425 477.5h1M432 477.5h2M442 477.5h1M448 477.5h2M453 477.5h1M464 477.5h2M36 478.5h1M40 478.5h1M57 478.5h1M61 478.5h1M82 478.5h1M93 478.5h2M98 478.5h1M106 478.5h2M109 478.5h1M127 478.5h1M132 478.5h1M141 478.5h43M185 478.5h2M191 478.5h2M347 478.5h1M350 478.5h1M352 478.5h2M356 478.5h1M358 478.5h1M361 478.5h3M375 478.5h4M380 478.5h1M384 478.5h1M387 478.5h1M411 478.5h1M425 478.5h1M429 478.5h2M432 478.5h1M438 478.5h2M452 478.5h2M52 479.5h2M61 479.5h1M66 479.5h1M72 479.5h2M83 479.5h1M89 479.5h1M93 479.5h1M98 479.5h1M109 479.5h1M116 479.5h1M132 479.5h1M134 479.5h3M139 479.5h47M187 479.5h2M191 479.5h1M346 479.5h2M350 479.5h1M352 479.5h1M356 479.5h4M362 479.5h2M367 479.5h3M375 479.5h1M378 479.5h1M387 479.5h1M389 479.5h3M403 479.5h1M407 479.5h2M413 479.5h1M422 479.5h3M444 479.5h1M452 479.5h1M460 479.5h1M55 480.5h1M76 480.5h1M84 480.5h1M86 480.5h1M90 480.5h4M108 480.5h2M121 480.5h2M130 480.5h1M135 480.5h3M140 480.5h47M190 480.5h3M347 480.5h1M350 480.5h1M352 480.5h1M355 480.5h3M366 480.5h4M372 480.5h1M379 480.5h2M382 480.5h2M386 480.5h1M403 480.5h1M405 480.5h3M412 480.5h5M418 480.5h1M423 480.5h3M427 480.5h5M433 480.5h2M438 480.5h1M444 480.5h1M463 480.5h1M52 481.5h2M55 481.5h1M60 481.5h1M76 481.5h1M78 481.5h2M90 481.5h1M104 481.5h1M107 481.5h1M127 481.5h1M136 481.5h1M138 481.5h50M192 481.5h1M199 481.5h1M209 481.5h1M340 481.5h2M345 481.5h2M348 481.5h5M354 481.5h4M361 481.5h2M366 481.5h3M377 481.5h1M386 481.5h2M389 481.5h1M404 481.5h2M407 481.5h1M416 481.5h1M422 481.5h1M424 481.5h2M429 481.5h3M445 481.5h2M463 481.5h1M48 482.5h1M52 482.5h2M56 482.5h1M79 482.5h2M83 482.5h1M87 482.5h1M91 482.5h2M94 482.5h1M131 482.5h1M136 482.5h53M191 482.5h2M199 482.5h1M334 482.5h1M339 482.5h1M344 482.5h2M351 482.5h1M357 482.5h4M362 482.5h4M369 482.5h2M372 482.5h2M376 482.5h3M389 482.5h1M402 482.5h2M410 482.5h1M412 482.5h1M422 482.5h1M428 482.5h2M433 482.5h1M436 482.5h1M438 482.5h2M465 482.5h1M471 482.5h2M37 483.5h1M48 483.5h1M51 483.5h1M56 483.5h1M65 483.5h2M80 483.5h1M84 483.5h1M87 483.5h1M90 483.5h1M93 483.5h2M103 483.5h1M128 483.5h1M131 483.5h1M134 483.5h2M137 483.5h51M190 483.5h3M194 483.5h2M334 483.5h1M337 483.5h1M339 483.5h2M346 483.5h1M351 483.5h1M355 483.5h2M362 483.5h13M376 483.5h3M389 483.5h2M395 483.5h1M403 483.5h1M410 483.5h1M415 483.5h1M419 483.5h1M422 483.5h1M427 483.5h2M442 483.5h2M448 483.5h1M36 484.5h1M72 484.5h2M100 484.5h2M130 484.5h2M137 484.5h54M194 484.5h1M343 484.5h2M346 484.5h1M348 484.5h1M352 484.5h1M354 484.5h3M358 484.5h20M381 484.5h2M387 484.5h1M389 484.5h1M392 484.5h2M398 484.5h1M404 484.5h3M410 484.5h2M414 484.5h2M419 484.5h1M424 484.5h1M432 484.5h3M438 484.5h2M36 485.5h1M43 485.5h1M50 485.5h1M63 485.5h1M67 485.5h1M69 485.5h1M75 485.5h2M80 485.5h2M84 485.5h3M89 485.5h1M93 485.5h2M97 485.5h2M106 485.5h1M111 485.5h1M121 485.5h3M132 485.5h1M136 485.5h53M190 485.5h1M201 485.5h1M211 485.5h2M348 485.5h1M354 485.5h25M381 485.5h2M386 485.5h4M394 485.5h1M396 485.5h1M404 485.5h1M406 485.5h1M409 485.5h2M412 485.5h3M418 485.5h2M422 485.5h1M429 485.5h1M431 485.5h4M36 486.5h2M48 486.5h1M63 486.5h1M68 486.5h2M76 486.5h1M80 486.5h1M84 486.5h1M86 486.5h2M91 486.5h1M93 486.5h1M101 486.5h3M119 486.5h2M129 486.5h1M132 486.5h1M135 486.5h54M194 486.5h1M200 486.5h2M343 486.5h1M352 486.5h27M382 486.5h2M385 486.5h1M387 486.5h1M392 486.5h1M396 486.5h1M409 486.5h1M422 486.5h1M424 486.5h1M428 486.5h3M434 486.5h1M440 486.5h1M49 487.5h1M51 487.5h2M69 487.5h1M72 487.5h1M79 487.5h1M86 487.5h2M91 487.5h1M93 487.5h4M99 487.5h1M123 487.5h1M127 487.5h1M135 487.5h54M195 487.5h1M208 487.5h1M332 487.5h1M338 487.5h3M343 487.5h3M352 487.5h32M391 487.5h1M393 487.5h1M403 487.5h2M409 487.5h2M416 487.5h3M423 487.5h2M426 487.5h1M428 487.5h3M436 487.5h1M39 488.5h1M49 488.5h1M56 488.5h1M59 488.5h1M69 488.5h1M72 488.5h1M89 488.5h2M98 488.5h3M126 488.5h2M135 488.5h54M195 488.5h1M332 488.5h1M335 488.5h1M339 488.5h1M344 488.5h3M350 488.5h33M386 488.5h2M390 488.5h1M392 488.5h3M402 488.5h1M410 488.5h4M416 488.5h5M423 488.5h4M428 488.5h2M436 488.5h3M443 488.5h1M39 489.5h1M45 489.5h2M52 489.5h2M56 489.5h1M60 489.5h3M66 489.5h2M77 489.5h1M79 489.5h1M81 489.5h1M86 489.5h2M94 489.5h1M98 489.5h1M100 489.5h1M105 489.5h2M134 489.5h56M335 489.5h1M339 489.5h2M345 489.5h1M350 489.5h31M386 489.5h1M393 489.5h2M402 489.5h1M410 489.5h6M419 489.5h3M424 489.5h2M430 489.5h1M44 490.5h5M55 490.5h1M63 490.5h1M77 490.5h2M81 490.5h1M86 490.5h1M92 490.5h1M101 490.5h2M104 490.5h2M129 490.5h4M134 490.5h57M193 490.5h2M196 490.5h1M335 490.5h1M346 490.5h2M349 490.5h33M384 490.5h1M386 490.5h1M389 490.5h1M398 490.5h3M404 490.5h1M406 490.5h2M409 490.5h1M413 490.5h3M419 490.5h1M438 490.5h2M452 490.5h1M36 491.5h1M40 491.5h2M44 491.5h1M53 491.5h4M58 491.5h2M63 491.5h1M66 491.5h2M77 491.5h1M95 491.5h2M100 491.5h1M102 491.5h2M108 491.5h2M120 491.5h2M129 491.5h2M132 491.5h60M209 491.5h1M334 491.5h2M345 491.5h41M389 491.5h1M395 491.5h1M399 491.5h1M401 491.5h2M409 491.5h2M416 491.5h1M418 491.5h1M422 491.5h2M429 491.5h1M36 492.5h1M39 492.5h2M47 492.5h1M69 492.5h1M72 492.5h1M76 492.5h1M78 492.5h1M84 492.5h2M88 492.5h1M90 492.5h1M92 492.5h1M101 492.5h1M104 492.5h2M128 492.5h3M132 492.5h58M197 492.5h1M338 492.5h2M343 492.5h2M346 492.5h33M380 492.5h6M389 492.5h2M394 492.5h1M401 492.5h2M412 492.5h1M418 492.5h1M422 492.5h1M425 492.5h2M431 492.5h1M36 493.5h1M42 493.5h1M49 493.5h2M53 493.5h1M64 493.5h1M70 493.5h1M72 493.5h1M77 493.5h5M93 493.5h2M99 493.5h1M111 493.5h1M125 493.5h1M128 493.5h1M134 493.5h56M327 493.5h2M337 493.5h3M341 493.5h1M343 493.5h4M349 493.5h32M382 493.5h4M390 493.5h1M398 493.5h1M410 493.5h2M422 493.5h1M434 493.5h1M35 494.5h1M42 494.5h1M53 494.5h1M61 494.5h1M63 494.5h1M72 494.5h1M81 494.5h6M89 494.5h2M92 494.5h1M95 494.5h1M97 494.5h2M102 494.5h1M104 494.5h2M128 494.5h4M134 494.5h57M196 494.5h2M200 494.5h1M335 494.5h1M339 494.5h1M341 494.5h1M345 494.5h2M348 494.5h34M385 494.5h2M390 494.5h1M393 494.5h2M398 494.5h1M404 494.5h3M411 494.5h2M417 494.5h2M420 494.5h3M426 494.5h2M435 494.5h1M35 495.5h3M46 495.5h1M54 495.5h1M63 495.5h1M73 495.5h1M75 495.5h1M81 495.5h3M85 495.5h1M89 495.5h6M97 495.5h1M102 495.5h1M128 495.5h2M131 495.5h1M135 495.5h56M194 495.5h1M201 495.5h1M345 495.5h35M381 495.5h2M385 495.5h2M389 495.5h2M392 495.5h2M406 495.5h3M413 495.5h3M418 495.5h1M431 495.5h1M35 496.5h3M43 496.5h1M45 496.5h2M53 496.5h1M60 496.5h1M62 496.5h3M69 496.5h2M75 496.5h1M80 496.5h5M86 496.5h2M91 496.5h3M95 496.5h1M101 496.5h2M107 496.5h2M122 496.5h1M125 496.5h1M130 496.5h4M135 496.5h54M194 496.5h2M340 496.5h1M345 496.5h2M348 496.5h32M382 496.5h3M391 496.5h3M408 496.5h2M418 496.5h1M421 496.5h1M430 496.5h2M435 496.5h1M449 496.5h1M37 497.5h1M41 497.5h1M49 497.5h3M60 497.5h2M64 497.5h1M72 497.5h1M75 497.5h1M79 497.5h2M82 497.5h4M87 497.5h1M96 497.5h1M102 497.5h2M105 497.5h1M119 497.5h1M122 497.5h1M125 497.5h66M195 497.5h1M197 497.5h2M203 497.5h1M334 497.5h1M337 497.5h1M343 497.5h36M382 497.5h4M390 497.5h2M393 497.5h1M403 497.5h1M405 497.5h1M408 497.5h1M415 497.5h2M421 497.5h1M427 497.5h2M435 497.5h4M45 498.5h1M48 498.5h1M56 498.5h1M64 498.5h2M69 498.5h2M75 498.5h1M83 498.5h3M90 498.5h1M93 498.5h1M96 498.5h1M101 498.5h2M104 498.5h1M117 498.5h1M125 498.5h1M127 498.5h3M134 498.5h58M201 498.5h2M210 498.5h2M334 498.5h1M339 498.5h1M341 498.5h1M343 498.5h38M382 498.5h2M386 498.5h4M408 498.5h1M420 498.5h2M44 499.5h2M53 499.5h1M55 499.5h2M60 499.5h1M64 499.5h1M69 499.5h3M75 499.5h1M78 499.5h2M86 499.5h1M89 499.5h1M91 499.5h1M96 499.5h1M100 499.5h2M112 499.5h1M114 499.5h2M117 499.5h1M126 499.5h2M129 499.5h1M131 499.5h2M134 499.5h56M191 499.5h2M331 499.5h2M335 499.5h1M339 499.5h3M348 499.5h31M380 499.5h3M389 499.5h2M400 499.5h1M420 499.5h1M36 500.5h2M40 500.5h1M50 500.5h4M58 500.5h1M60 500.5h4M69 500.5h1M75 500.5h1M89 500.5h2M99 500.5h1M113 500.5h1M127 500.5h1M129 500.5h2M133 500.5h59M328 500.5h1M330 500.5h2M335 500.5h1M339 500.5h40M381 500.5h1M389 500.5h2M400 500.5h1M413 500.5h1M441 500.5h1M46 501.5h1M50 501.5h1M57 501.5h2M60 501.5h3M74 501.5h2M80 501.5h4M89 501.5h3M97 501.5h1M100 501.5h1M102 501.5h1M113 501.5h1M125 501.5h1M127 501.5h66M328 501.5h1M331 501.5h1M339 501.5h40M389 501.5h3M398 501.5h2M46 502.5h1M48 502.5h3M58 502.5h2M66 502.5h1M93 502.5h1M97 502.5h1M100 502.5h1M102 502.5h1M112 502.5h2M128 502.5h1M130 502.5h1M132 502.5h2M135 502.5h57M215 502.5h2M331 502.5h1M334 502.5h1M339 502.5h8M349 502.5h21M371 502.5h7M401 502.5h1M404 502.5h1M407 502.5h1M35 503.5h1M46 503.5h2M49 503.5h3M62 503.5h1M64 503.5h1M77 503.5h1M82 503.5h1M84 503.5h1M102 503.5h1M126 503.5h2M130 503.5h1M133 503.5h59M193 503.5h1M199 503.5h2M329 503.5h1M331 503.5h1M334 503.5h2M340 503.5h4M345 503.5h3M351 503.5h25M401 503.5h1M404 503.5h1M36 504.5h1M46 504.5h2M54 504.5h1M62 504.5h1M64 504.5h1M66 504.5h1M70 504.5h4M79 504.5h4M85 504.5h2M88 504.5h2M101 504.5h2M106 504.5h1M113 504.5h2M129 504.5h62M192 504.5h3M331 504.5h1M335 504.5h1M337 504.5h2M341 504.5h2M344 504.5h4M351 504.5h18M370 504.5h3M374 504.5h1M378 504.5h1M35 505.5h3M42 505.5h2M45 505.5h1M49 505.5h1M54 505.5h1M57 505.5h1M59 505.5h2M64 505.5h1M69 505.5h2M75 505.5h1M86 505.5h3M95 505.5h1M99 505.5h1M101 505.5h1M110 505.5h2M115 505.5h1M123 505.5h1M127 505.5h4M132 505.5h59M194 505.5h1M198 505.5h1M334 505.5h2M342 505.5h3M353 505.5h7M361 505.5h8M378 505.5h1M383 505.5h1M394 505.5h1M35 506.5h2M45 506.5h2M50 506.5h1M56 506.5h1M61 506.5h1M65 506.5h2M70 506.5h1M72 506.5h1M75 506.5h1M78 506.5h3M85 506.5h4M91 506.5h1M93 506.5h1M103 506.5h3M113 506.5h1M123 506.5h1M126 506.5h5M133 506.5h60M195 506.5h1M201 506.5h1M334 506.5h1M353 506.5h7M362 506.5h6M371 506.5h4M35 507.5h4M45 507.5h1M47 507.5h2M50 507.5h1M53 507.5h1M56 507.5h1M61 507.5h1M65 507.5h2M74 507.5h1M77 507.5h2M86 507.5h1M88 507.5h1M92 507.5h1M106 507.5h1M115 507.5h2M124 507.5h8M134 507.5h60M197 507.5h2M201 507.5h1M211 507.5h2M331 507.5h3M346 507.5h3M350 507.5h1M354 507.5h4M362 507.5h4M371 507.5h3M376 507.5h1M41 508.5h2M46 508.5h1M55 508.5h2M58 508.5h2M61 508.5h1M72 508.5h2M78 508.5h1M88 508.5h1M90 508.5h3M95 508.5h1M100 508.5h1M105 508.5h1M109 508.5h2M114 508.5h2M121 508.5h2M125 508.5h1M128 508.5h2M135 508.5h59M195 508.5h1M197 508.5h1M322 508.5h1M345 508.5h4M359 508.5h2M363 508.5h2M367 508.5h2M372 508.5h1M386 508.5h1M37 509.5h2M46 509.5h1M48 509.5h2M53 509.5h3M58 509.5h2M65 509.5h1M67 509.5h2M71 509.5h2M77 509.5h3M81 509.5h2M91 509.5h4M116 509.5h2M120 509.5h1M125 509.5h5M132 509.5h1M134 509.5h59M194 509.5h4M322 509.5h1M332 509.5h1M339 509.5h1M343 509.5h3M348 509.5h1M351 509.5h2M357 509.5h1M359 509.5h2M362 509.5h4M370 509.5h1M372 509.5h1M377 509.5h2M35 510.5h2M44 510.5h1M47 510.5h2M56 510.5h1M59 510.5h2M62 510.5h1M65 510.5h1M67 510.5h2M72 510.5h6M81 510.5h5M87 510.5h2M90 510.5h1M94 510.5h2M100 510.5h2M116 510.5h2M120 510.5h1M126 510.5h66M197 510.5h2M337 510.5h2M346 510.5h1M354 510.5h6M362 510.5h1M365 510.5h4M370 510.5h1M381 510.5h1M39 511.5h1M43 511.5h2M46 511.5h3M50 511.5h2M55 511.5h2M60 511.5h3M65 511.5h1M69 511.5h2M73 511.5h4M80 511.5h1M82 511.5h1M87 511.5h2M126 511.5h3M130 511.5h1M132 511.5h1M134 511.5h59M198 511.5h1M332 511.5h1M334 511.5h2M350 511.5h2M356 511.5h1M359 511.5h1M365 511.5h3M39 512.5h1M43 512.5h1M48 512.5h1M55 512.5h1M58 512.5h2M66 512.5h1M70 512.5h1M76 512.5h2M80 512.5h1M82 512.5h1M94 512.5h3M124 512.5h6M134 512.5h59M194 512.5h1M200 512.5h1M332 512.5h1M342 512.5h2M352 512.5h2M37 513.5h1M43 513.5h2M46 513.5h1M48 513.5h1M55 513.5h3M64 513.5h1M67 513.5h2M70 513.5h2M76 513.5h3M80 513.5h1M83 513.5h2M91 513.5h1M99 513.5h1M101 513.5h1M104 513.5h3M113 513.5h1M126 513.5h1M131 513.5h2M134 513.5h59M194 513.5h1M343 513.5h2M350 513.5h1M359 513.5h1M37 514.5h1M41 514.5h1M48 514.5h2M53 514.5h1M59 514.5h2M63 514.5h2M66 514.5h3M74 514.5h1M78 514.5h4M83 514.5h2M86 514.5h1M91 514.5h2M94 514.5h2M106 514.5h1M108 514.5h1M119 514.5h1M126 514.5h2M129 514.5h1M132 514.5h61M195 514.5h3M342 514.5h1M348 514.5h1M367 514.5h1M37 515.5h1M41 515.5h1M44 515.5h2M47 515.5h1M52 515.5h2M60 515.5h1M62 515.5h2M66 515.5h1M68 515.5h2M76 515.5h1M78 515.5h8M87 515.5h1M92 515.5h1M95 515.5h1M103 515.5h1M106 515.5h1M115 515.5h1M119 515.5h1M129 515.5h1M134 515.5h59M197 515.5h2M342 515.5h1M36 516.5h2M41 516.5h1M47 516.5h1M50 516.5h1M71 516.5h1M75 516.5h2M78 516.5h1M82 516.5h4M95 516.5h1M97 516.5h2M101 516.5h1M116 516.5h2M125 516.5h1M129 516.5h63M193 516.5h3M329 516.5h1M343 516.5h1M345 516.5h1M354 516.5h1M57 517.5h2M66 517.5h3M71 517.5h1M84 517.5h1M88 517.5h2M92 517.5h3M122 517.5h1M124 517.5h1M126 517.5h1M128 517.5h1M130 517.5h64M197 517.5h4M345 517.5h1M35 518.5h1M46 518.5h1M53 518.5h2M57 518.5h2M77 518.5h1M82 518.5h1M84 518.5h2M91 518.5h3M97 518.5h1M102 518.5h1M109 518.5h2M112 518.5h1M125 518.5h1M133 518.5h61M197 518.5h3M208 518.5h2M35 519.5h1M49 519.5h1M62 519.5h1M76 519.5h3M81 519.5h2M85 519.5h1M90 519.5h2M94 519.5h4M102 519.5h1M113 519.5h1M120 519.5h2M125 519.5h3M130 519.5h2M134 519.5h62M35 520.5h1M37 520.5h1M40 520.5h1M48 520.5h6M55 520.5h2M62 520.5h1M65 520.5h1M67 520.5h1M72 520.5h2M81 520.5h2M84 520.5h2M89 520.5h1M97 520.5h1M99 520.5h1M113 520.5h1M120 520.5h1M125 520.5h3M129 520.5h3M134 520.5h63M37 521.5h3M43 521.5h1M48 521.5h1M53 521.5h3M57 521.5h1M66 521.5h2M72 521.5h1M83 521.5h2M91 521.5h1M94 521.5h1M97 521.5h1M99 521.5h1M101 521.5h1M110 521.5h3M117 521.5h1M119 521.5h1M122 521.5h3M133 521.5h1M135 521.5h59M197 521.5h2" stroke="#000" stroke-width="1" fill="none"/>
<g transform="rotate(-0.33 260.0 276.0)" fill="#000" font-family="Liberation Sans, sans-serif">
<g stroke="#000">
<rect x="29.71" y="35.93" width="210.1" height="198.75" fill="none" stroke-width="1.4"/>
<rect x="300.81" y="35.89" width="210.5" height="198.4" fill="none" stroke-width="1.4"/>
<rect x="33.5" y="324.59" width="207.65" height="197.25" fill="none" stroke-width="1.4"/>
<rect x="298.16" y="323.68" width="210.2" height="197.35" fill="none" stroke-width="1.4"/>
<line x1="30.83" y1="234.68" x2="30.83" y2="239.68" stroke-width="1.2"/>
<line x1="38.97" y1="234.68" x2="38.97" y2="237.68" stroke-width="1.2"/>
<line x1="47.11" y1="234.68" x2="47.11" y2="237.68" stroke-width="1.2"/>
<line x1="55.25" y1="234.68" x2="55.25" y2="237.68" stroke-width="1.2"/>
<line x1="63.39" y1="234.68" x2="63.39" y2="237.68" stroke-width="1.2"/>
<line x1="71.53" y1="234.68" x2="71.53" y2="239.68" stroke-width="1.2"/>
<line x1="79.67" y1="234.68" x2="79.67" y2="237.68" stroke-width="1.2"/>
<line x1="87.81" y1="234.68" x2="87.81" y2="237.68" stroke-width="1.2"/>
<line x1="95.95" y1="234.68" x2="95.95" y2="237.68" stroke-width="1.2"/>
<line x1="104.09" y1="234.68" x2="104.09" y2="237.68" stroke-width="1.2"/>
<line x1="112.23" y1="234.68" x2="112.23" y2="239.68" stroke-width="1.2"/>
<line x1="120.37" y1="234.68" x2="120.37" y2="237.68" stroke-width="1.2"/>
<line x1="128.51" y1="234.68" x2="128.51" y2="237.68" stroke-width="1.2"/>
<line x1="136.65" y1="234.68" x2="136.65" y2="237.68" stroke-width="1.2"/>
<line x1="144.79" y1="234.68" x2="144.79" y2="237.68" stroke-width="1.2"/>
<line x1="152.93" y1="234.68" x2="152.93" y2="239.68" stroke-width="1.2"/>
<line x1="161.07" y1="234.68" x2="161.07" y2="237.68" stroke-width="1.2"/>
<line x1="169.21" y1="234.68" x2="169.21" y2="237.68" stroke-width="1.2"/>
<line x1="177.35" y1="234.68" x2="177.35" y2="237.68" stroke-width="1.2"/>
<line x1="185.49" y1="234.68" x2="185.49" y2="237.68" stroke-width="1.2"/>
<line x1="193.63" y1="234.68" x2="193.63" y2="239.68" stroke-width="1.2"/>
<line x1="201.77" y1="234.68" x2="201.77" y2="237.68" stroke-width="1.2"/>
<line x1="209.91" y1="234.68" x2="209.91" y2="237.68" stroke-width="1.2"/>
<line x1="218.05" y1="234.68" x2="218.05" y2="237.68" stroke-width="1.2"/>
<line x1="226.19" y1="234.68" x2="226.19" y2="237.68" stroke-width="1.2"/>
<line x1="234.33" y1="234.68" x2="234.33" y2="239.68" stroke-width="1.2"/>
<line x1="24.71" y1="232.85" x2="29.71" y2="232.85" stroke-width="1.2"/>
<line x1="26.71" y1="225.2" x2="29.71" y2="225.2" stroke-width="1.2"/>
<line x1="26.71" y1="217.55" x2="29.71" y2="217.55" stroke-width="1.2"/>
<line x1="26.71" y1="209.89" x2="29.71" y2="209.89" stroke-width="1.2"/>
<line x1="26.71" y1="202.24" x2="29.71" y2="202.24" stroke-width="1.2"/>
<line x1="24.71" y1="194.58" x2="29.71" y2="194.58" stroke-width="1.2"/>
<line x1="26.71" y1="186.93" x2="29.71" y2="186.93" stroke-width="1.2"/>
<line x1="26.71" y1="179.28" x2="29.71" y2="179.28" stroke-width="1.2"/>
<line x1="26.71" y1="171.62" x2="29.71" y2="171.62" stroke-width="1.2"/>
<line x1="26.71" y1="163.97" x2="29.71" y2="163.97" stroke-width="1.2"/>
<line x1="24.71" y1="156.31" x2="29.71" y2="156.31" stroke-width="1.2"/>
<line x1="26.71" y1="148.66" x2="29.71" y2="148.66" stroke-width="1.2"/>
<line x1="26.71" y1="141.01" x2="29.71" y2="141.01" stroke-width="1.2"/>
<line x1="26.71" y1="133.35" x2="29.71" y2="133.35" stroke-width="1.2"/>
<line x1="26.71" y1="125.7" x2="29.71" y2="125.7" stroke-width="1.2"/>
<line x1="24.71" y1="118.04" x2="29.71" y2="118.04" stroke-width="1.2"/>
<line x1="26.71" y1="110.39" x2="29.71" y2="110.39" stroke-width="1.2"/>
<line x1="26.71" y1="102.74" x2="29.71" y2="102.74" stroke-width="1.2"/>
<line x1="26.71" y1="95.08" x2="29.71" y2="95.08" stroke-width="1.2"/>
<line x1="26.71" y1="87.43" x2="29.71" y2="87.43" stroke-width="1.2"/>
<line x1="24.71" y1="79.78" x2="29.71" y2="79.78" stroke-width="1.2"/>
<line x1="26.71" y1="72.12" x2="29.71" y2="72.12" stroke-width="1.2"/>
<line x1="26.71" y1="64.47" x2="29.71" y2="64.47" stroke-width="1.2"/>
<line x1="26.71" y1="56.81" x2="29.71" y2="56.81" stroke-width="1.2"/>
<line x1="26.71" y1="49.16" x2="29.71" y2="49.16" stroke-width="1.2"/>
<line x1="24.71" y1="41.51" x2="29.71" y2="41.51" stroke-width="1.2"/>
<line x1="298.78" y1="521.03" x2="298.78" y2="526.03" stroke-width="1.2"/>
<line x1="306.92" y1="521.03" x2="306.92" y2="524.03" stroke-width="1.2"/>
<line x1="315.06" y1="521.03" x2="315.06" y2="524.03" stroke-width="1.2"/>
<line x1="323.21" y1="521.03" x2="323.21" y2="524.03" stroke-width="1.2"/>
<line x1="331.35" y1="521.03" x2="331.35" y2="524.03" stroke-width="1.2"/>
<line x1="339.5" y1="521.03" x2="339.5" y2="526.03" stroke-width="1.2"/>
<line x1="347.64" y1="521.03" x2="347.64" y2="524.03" stroke-width="1.2"/>
<line x1="355.78" y1="521.03" x2="355.78" y2="524.03" stroke-width="1.2"/>
<line x1="363.93" y1="521.03" x2="363.93" y2="524.03" stroke-width="1.2"/>
<line x1="372.07" y1="521.03" x2="372.07" y2="524.03" stroke-width="1.2"/>
<line x1="380.22" y1="521.03" x2="380.22" y2="526.03" stroke-width="1.2"/>
<line x1="388.36" y1="521.03" x2="388.36" y2="524.03" stroke-width="1.2"/>
<line x1="396.5" y1="521.03" x2="396.5" y2="524.03" stroke-width="1.2"/>
<line x1="404.65" y1="521.03" x2="404.65" y2="524.03" stroke-width="1.2"/>
<line x1="412.79" y1="521.03" x2="412.79" y2="524.03" stroke-width="1.2"/>
<line x1="420.93" y1="521.03" x2="420.93" y2="526.03" stroke-width="1.2"/>
<line x1="429.08" y1="521.03" x2="429.08" y2="524.03" stroke-width="1.2"/>
<line x1="437.22" y1="521.03" x2="437.22" y2="524.03" stroke-width="1.2"/>
<line x1="445.37" y1="521.03" x2="445.37" y2="524.03" stroke-width="1.2"/>
<line x1="453.51" y1="521.03" x2="453.51" y2="524.03" stroke-width="1.2"/>
<line x1="461.65" y1="521.03" x2="461.65" y2="526.03" stroke-width="1.2"/>
<line x1="469.8" y1="521.03" x2="469.8" y2="524.03" stroke-width="1.2"/>
<line x1="477.94" y1="521.03" x2="477.94" y2="524.03" stroke-width="1.2"/>
<line x1="486.09" y1="521.03" x2="486.09" y2="524.03" stroke-width="1.2"/>
<line x1="494.23" y1="521.03" x2="494.23" y2="524.03" stroke-width="1.2"/>
<line x1="502.37" y1="521.03" x2="502.37" y2="526.03" stroke-width="1.2"/>
<line x1="293.16" y1="519.89" x2="298.16" y2="519.89" stroke-width="1.2"/>
<line x1="295.16" y1="512.25" x2="298.16" y2="512.25" stroke-width="1.2"/>
<line x1="295.16" y1="504.61" x2="298.16" y2="504.61" stroke-width="1.2"/>
<line x1="295.16" y1="496.98" x2="298.16" y2="496.98" stroke-width="1.2"/>
<line x1="295.16" y1="489.34" x2="298.16" y2="489.34" stroke-width="1.2"/>
<line x1="293.16" y1="481.71" x2="298.16" y2="481.71" stroke-width="1.2"/>
<line x1="295.16" y1="474.07" x2="298.16" y2="474.07" stroke-width="1.2"/>
<line x1="295.16" y1="466.43" x2="298.16" y2="466.43" stroke-width="1.2"/>
<line x1="295.16" y1="458.8" x2="298.16" y2="458.8" stroke-width="1.2"/>
<line x1="295.16" y1="451.16" x2="298.16" y2="451.16" stroke-width="1.2"/>
<line x1="293.16" y1="443.53" x2="298.16" y2="443.53" stroke-width="1.2"/>
<line x1="295.16" y1="435.89" x2="298.16" y2="435.89" stroke-width="1.2"/>
<line x1="295.16" y1="428.26" x2="298.16" y2="428.26" stroke-width="1.2"/>
<line x1="295.16" y1="420.62" x2="298.16" y2="420.62" stroke-width="1.2"/>
<line x1="295.16" y1="412.98" x2="298.16" y2="412.98" stroke-width="1.2"/>
<line x1="293.16" y1="405.35" x2="298.16" y2="405.35" stroke-width="1.2"/>
<line x1="295.16" y1="397.71" x2="298.16" y2="397.71" stroke-width="1.2"/>
<line x1="295.16" y1="390.08" x2="298.16" y2="390.08" stroke-width="1.2"/>
<line x1="295.16" y1="382.44" x2="298.16" y2="382.44" stroke-width="1.2"/>
<line x1="295.16" y1="374.8" x2="298.16" y2="374.8" stroke-width="1.2"/>
<line x1="293.16" y1="367.17" x2="298.16" y2="367.17" stroke-width="1.2"/>
<line x1="295.16" y1="359.53" x2="298.16" y2="359.53" stroke-width="1.2"/>
<line x1="295.16" y1="351.9" x2="298.16" y2="351.9" stroke-width="1.2"/>
<line x1="295.16" y1="344.26" x2="298.16" y2="344.26" stroke-width="1.2"/>
<line x1="295.16" y1="336.63" x2="298.16" y2="336.63" stroke-width="1.2"/>
<line x1="293.16" y1="328.99" x2="298.16" y2="328.99" stroke-width="1.2"/>
<line x1="302.13" y1="234.29" x2="302.13" y2="239.29" stroke-width="1.2"/>
<line x1="317.78" y1="234.29" x2="317.78" y2="237.29" stroke-width="1.2"/>
<line x1="326.94" y1="234.29" x2="326.94" y2="237.29" stroke-width="1.2"/>
<line x1="333.44" y1="234.29" x2="333.44" y2="237.29" stroke-width="1.2"/>
<line x1="338.48" y1="234.29" x2="338.48" y2="237.29" stroke-width="1.2"/>
<line x1="342.59" y1="234.29" x2="342.59" y2="237.29" stroke-width="1.2"/>
<line x1="346.07" y1="234.29" x2="346.07" y2="237.29" stroke-width="1.2"/>
<line x1="349.09" y1="234.29" x2="349.09" y2="237.29" stroke-width="1.2"/>
<line x1="351.75" y1="234.29" x2="351.75" y2="237.29" stroke-width="1.2"/>
<line x1="354.13" y1="234.29" x2="354.13" y2="239.29" stroke-width="1.2"/>
<line x1="369.78" y1="234.29" x2="369.78" y2="237.29" stroke-width="1.2"/>
<line x1="378.94" y1="234.29" x2="378.94" y2="237.29" stroke-width="1.2"/>
<line x1="385.44" y1="234.29" x2="385.44" y2="237.29" stroke-width="1.2"/>
<line x1="390.47" y1="234.29" x2="390.47" y2="237.29" stroke-width="1.2"/>
<line x1="394.59" y1="234.29" x2="394.59" y2="237.29" stroke-width="1.2"/>
<line x1="398.07" y1="234.29" x2="398.07" y2="237.29" stroke-width="1.2"/>
<line x1="401.09" y1="234.29" x2="401.09" y2="237.29" stroke-width="1.2"/>
<line x1="403.75" y1="234.29" x2="403.75" y2="237.29" stroke-width="1.2"/>
<line x1="406.13" y1="234.29" x2="406.13" y2="239.29" stroke-width="1.2"/>
<line x1="421.78" y1="234.29" x2="421.78" y2="237.29" stroke-width="1.2"/>
<line x1="430.94" y1="234.29" x2="430.94" y2="237.29" stroke-width="1.2"/>
<line x1="437.43" y1="234.29" x2="437.43" y2="237.29" stroke-width="1.2"/>
<line x1="442.47" y1="234.29" x2="442.47" y2="237.29" stroke-width="1.2"/>
<line x1="446.59" y1="234.29" x2="446.59" y2="237.29" stroke-width="1.2"/>
<line x1="450.07" y1="234.29" x2="450.07" y2="237.29" stroke-width="1.2"/>
<line x1="453.09" y1="234.29" x2="453.09" y2="237.29" stroke-width="1.2"/>
<line x1="455.75" y1="234.29" x2="455.75" y2="237.29" stroke-width="1.2"/>
<line x1="458.13" y1="234.29" x2="458.13" y2="239.29" stroke-width="1.2"/>
<line x1="473.78" y1="234.29" x2="473.78" y2="237.29" stroke-width="1.2"/>
<line x1="482.94" y1="234.29" x2="482.94" y2="237.29" stroke-width="1.2"/>
<line x1="489.43" y1="234.29" x2="489.43" y2="237.29" stroke-width="1.2"/>
<line x1="494.47" y1="234.29" x2="494.47" y2="237.29" stroke-width="1.2"/>
<line x1="498.59" y1="234.29" x2="498.59" y2="237.29" stroke-width="1.2"/>
<line x1="502.07" y1="234.29" x2="502.07" y2="237.29" stroke-width="1.2"/>
<line x1="505.09" y1="234.29" x2="505.09" y2="237.29" stroke-width="1.2"/>
<line x1="507.75" y1="234.29" x2="507.75" y2="237.29" stroke-width="1.2"/>
<line x1="510.13" y1="234.29" x2="510.13" y2="239.29" stroke-width="1.2"/>
<line x1="295.81" y1="233.71" x2="300.81" y2="233.71" stroke-width="1.2"/>
<line x1="297.81" y1="225.83" x2="300.81" y2="225.83" stroke-width="1.2"/>
<line x1="297.81" y1="217.94" x2="300.81" y2="217.94" stroke-width="1.2"/>
<line x1="297.81" y1="210.05" x2="300.81" y2="210.05" stroke-width="1.2"/>
<line x1="297.81" y1="202.16" x2="300.81" y2="202.16" stroke-width="1.2"/>
<line x1="295.81" y1="194.27" x2="300.81" y2="194.27" stroke-width="1.2"/>
<line x1="297.81" y1="186.39" x2="300.81" y2="186.39" stroke-width="1.2"/>
<line x1="297.81" y1="178.5" x2="300.81" y2="178.5" stroke-width="1.2"/>
<line x1="297.81" y1="170.61" x2="300.81" y2="170.61" stroke-width="1.2"/>
<line x1="297.81" y1="162.72" x2="300.81" y2="162.72" stroke-width="1.2"/>
<line x1="295.81" y1="154.84" x2="300.81" y2="154.84" stroke-width="1.2"/>
<line x1="297.81" y1="146.95" x2="300.81" y2="146.95" stroke-width="1.2"/>
<line x1="297.81" y1="139.06" x2="300.81" y2="139.06" stroke-width="1.2"/>
<line x1="297.81" y1="131.17" x2="300.81" y2="131.17" stroke-width="1.2"/>
<line x1="297.81" y1="123.28" x2="300.81" y2="123.28" stroke-width="1.2"/>
<line x1="295.81" y1="115.4" x2="300.81" y2="115.4" stroke-width="1.2"/>
<line x1="297.81" y1="107.51" x2="300.81" y2="107.51" stroke-width="1.2"/>
<line x1="297.81" y1="99.62" x2="300.81" y2="99.62" stroke-width="1.2"/>
<line x1="297.81" y1="91.73" x2="300.81" y2="91.73" stroke-width="1.2"/>
<line x1="297.81" y1="83.84" x2="300.81" y2="83.84" stroke-width="1.2"/>
<line x1="295.81" y1="75.96" x2="300.81" y2="75.96" stroke-width="1.2"/>
<line x1="297.81" y1="68.07" x2="300.81" y2="68.07" stroke-width="1.2"/>
<line x1="297.81" y1="60.18" x2="300.81" y2="60.18" stroke-width="1.2"/>
<line x1="297.81" y1="52.29" x2="300.81" y2="52.29" stroke-width="1.2"/>
<line x1="297.81" y1="44.4" x2="300.81" y2="44.4" stroke-width="1.2"/>
<line x1="295.81" y1="36.52" x2="300.81" y2="36.52" stroke-width="1.2"/>
<line x1="34.07" y1="521.85" x2="34.07" y2="526.85" stroke-width="1.2"/>
<line x1="49.56" y1="521.85" x2="49.56" y2="524.85" stroke-width="1.2"/>
<line x1="58.62" y1="521.85" x2="58.62" y2="524.85" stroke-width="1.2"/>
<line x1="65.05" y1="521.85" x2="65.05" y2="524.85" stroke-width="1.2"/>
<line x1="70.03" y1="521.85" x2="70.03" y2="524.85" stroke-width="1.2"/>
<line x1="74.1" y1="521.85" x2="74.1" y2="524.85" stroke-width="1.2"/>
<line x1="77.55" y1="521.85" x2="77.55" y2="524.85" stroke-width="1.2"/>
<line x1="80.53" y1="521.85" x2="80.53" y2="524.85" stroke-width="1.2"/>
<line x1="83.16" y1="521.85" x2="83.16" y2="524.85" stroke-width="1.2"/>
<line x1="85.52" y1="521.85" x2="85.52" y2="526.85" stroke-width="1.2"/>
<line x1="101.01" y1="521.85" x2="101.01" y2="524.85" stroke-width="1.2"/>
<line x1="110.07" y1="521.85" x2="110.07" y2="524.85" stroke-width="1.2"/>
<line x1="116.49" y1="521.85" x2="116.49" y2="524.85" stroke-width="1.2"/>
<line x1="121.48" y1="521.85" x2="121.48" y2="524.85" stroke-width="1.2"/>
<line x1="125.55" y1="521.85" x2="125.55" y2="524.85" stroke-width="1.2"/>
<line x1="129" y1="521.85" x2="129" y2="524.85" stroke-width="1.2"/>
<line x1="131.98" y1="521.85" x2="131.98" y2="524.85" stroke-width="1.2"/>
<line x1="134.61" y1="521.85" x2="134.61" y2="524.85" stroke-width="1.2"/>
<line x1="136.97" y1="521.85" x2="136.97" y2="526.85" stroke-width="1.2"/>
<line x1="152.46" y1="521.85" x2="152.46" y2="524.85" stroke-width="1.2"/>
<line x1="161.52" y1="521.85" x2="161.52" y2="524.85" stroke-width="1.2"/>
<line x1="167.94" y1="521.85" x2="167.94" y2="524.85" stroke-width="1.2"/>
<line x1="172.93" y1="521.85" x2="172.93" y2="524.85" stroke-width="1.2"/>
<line x1="177" y1="521.85" x2="177" y2="524.85" stroke-width="1.2"/>
<line x1="180.45" y1="521.85" x2="180.45" y2="524.85" stroke-width="1.2"/>
<line x1="183.43" y1="521.85" x2="183.43" y2="524.85" stroke-width="1.2"/>
<line x1="186.06" y1="521.85" x2="186.06" y2="524.85" stroke-width="1.2"/>
<line x1="188.42" y1="521.85" x2="188.42" y2="526.85" stroke-width="1.2"/>
<line x1="203.9" y1="521.85" x2="203.9" y2="524.85" stroke-width="1.2"/>
<line x1="212.96" y1="521.85" x2="212.96" y2="524.85" stroke-width="1.2"/>
<line x1="219.39" y1="521.85" x2="219.39" y2="524.85" stroke-width="1.2"/>
<line x1="224.38" y1="521.85" x2="224.38" y2="524.85" stroke-width="1.2"/>
<line x1="228.45" y1="521.85" x2="228.45" y2="524.85" stroke-width="1.2"/>
<line x1="231.9" y1="521.85" x2="231.9" y2="524.85" stroke-width="1.2"/>
<line x1="234.88" y1="521.85" x2="234.88" y2="524.85" stroke-width="1.2"/>
<line x1="237.51" y1="521.85" x2="237.51" y2="524.85" stroke-width="1.2"/>
<line x1="239.87" y1="521.85" x2="239.87" y2="526.85" stroke-width="1.2"/>
<line x1="28.5" y1="521.37" x2="33.5" y2="521.37" stroke-width="1.2"/>
<line x1="30.5" y1="506.68" x2="33.5" y2="506.68" stroke-width="1.2"/>
<line x1="30.5" y1="498.09" x2="33.5" y2="498.09" stroke-width="1.2"/>
<line x1="30.5" y1="491.99" x2="33.5" y2="491.99" stroke-width="1.2"/>
<line x1="30.5" y1="487.26" x2="33.5" y2="487.26" stroke-width="1.2"/>
<line x1="30.5" y1="483.4" x2="33.5" y2="483.4" stroke-width="1.2"/>
<line x1="30.5" y1="480.13" x2="33.5" y2="480.13" stroke-width="1.2"/>
<line x1="30.5" y1="477.3" x2="33.5" y2="477.3" stroke-width="1.2"/>
<line x1="30.5" y1="474.8" x2="33.5" y2="474.8" stroke-width="1.2"/>
<line x1="28.5" y1="472.57" x2="33.5" y2="472.57" stroke-width="1.2"/>
<line x1="30.5" y1="457.88" x2="33.5" y2="457.88" stroke-width="1.2"/>
<line x1="30.5" y1="449.29" x2="33.5" y2="449.29" stroke-width="1.2"/>
<line x1="30.5" y1="443.19" x2="33.5" y2="443.19" stroke-width="1.2"/>
<line x1="30.5" y1="438.46" x2="33.5" y2="438.46" stroke-width="1.2"/>
<line x1="30.5" y1="434.6" x2="33.5" y2="434.6" stroke-width="1.2"/>
<line x1="30.5" y1="431.33" x2="33.5" y2="431.33" stroke-width="1.2"/>
<line x1="30.5" y1="428.5" x2="33.5" y2="428.5" stroke-width="1.2"/>
<line x1="30.5" y1="426.01" x2="33.5" y2="426.01" stroke-width="1.2"/>
<line x1="28.5" y1="423.77" x2="33.5" y2="423.77" stroke-width="1.2"/>
<line x1="30.5" y1="409.08" x2="33.5" y2="409.08" stroke-width="1.2"/>
<line x1="30.5" y1="400.49" x2="33.5" y2="400.49" stroke-width="1.2"/>
<line x1="30.5" y1="394.39" x2="33.5" y2="394.39" stroke-width="1.2"/>
<line x1="30.5" y1="389.66" x2="33.5" y2="389.66" stroke-width="1.2"/>
<line x1="30.5" y1="385.8" x2="33.5" y2="385.8" stroke-width="1.2"/>
<line x1="30.5" y1="382.53" x2="33.5" y2="382.53" stroke-width="1.2"/>
<line x1="30.5" y1="379.7" x2="33.5" y2="379.7" stroke-width="1.2"/>
<line x1="30.5" y1="377.21" x2="33.5" y2="377.21" stroke-width="1.2"/>
<line x1="28.5" y1="374.97" x2="33.5" y2="374.97" stroke-width="1.2"/>
<line x1="30.5" y1="360.28" x2="33.5" y2="360.28" stroke-width="1.2"/>
<line x1="30.5" y1="351.69" x2="33.5" y2="351.69" stroke-width="1.2"/>
<line x1="30.5" y1="345.59" x2="33.5" y2="345.59" stroke-width="1.2"/>
<line x1="30.5" y1="340.86" x2="33.5" y2="340.86" stroke-width="1.2"/>
<line x1="30.5" y1="337" x2="33.5" y2="337" stroke-width="1.2"/>
<line x1="30.5" y1="333.73" x2="33.5" y2="333.73" stroke-width="1.2"/>
<line x1="30.5" y1="330.9" x2="33.5" y2="330.9" stroke-width="1.2"/>
<line x1="30.5" y1="328.41" x2="33.5" y2="328.41" stroke-width="1.2"/>
<line x1="28.5" y1="326.17" x2="33.5" y2="326.17" stroke-width="1.2"/>
<rect x="116.09" y="359.56" width="98.75" height="112.4" fill="none" stroke-width="1.3"/>
</g>
<g stroke="#000" stroke-width="0.5">
<text x="30.55" y="249.28" font-size="10" text-anchor="middle">0</text>
<text x="20.24" y="232.82" font-size="10" text-anchor="middle" transform="rotate(-90 20.24 232.82)">0</text>
<text x="298.71" y="535.53" font-size="10" text-anchor="middle">0</text>
<text x="288" y="519.87" font-size="10" text-anchor="middle" transform="rotate(-90 288 519.87)">0</text>
<text x="70.55" y="249.51" font-size="10" text-anchor="middle">200</text>
<text x="20.47" y="194.55" font-size="10" text-anchor="middle" transform="rotate(-90 20.47 194.55)">200</text>
<text x="338.83" y="535.76" font-size="10" text-anchor="middle">200</text>
<text x="288.22" y="481.69" font-size="10" text-anchor="middle" transform="rotate(-90 288.22 481.69)">200</text>
<text x="111.25" y="249.74" font-size="10" text-anchor="middle">400</text>
<text x="20.69" y="156.28" font-size="10" text-anchor="middle" transform="rotate(-90 20.69 156.28)">400</text>
<text x="379.54" y="535.99" font-size="10" text-anchor="middle">400</text>
<text x="288.44" y="443.51" font-size="10" text-anchor="middle" transform="rotate(-90 288.44 443.51)">400</text>
<text x="151.95" y="249.98" font-size="10" text-anchor="middle">600</text>
<text x="20.91" y="118.01" font-size="10" text-anchor="middle" transform="rotate(-90 20.91 118.01)">600</text>
<text x="420.26" y="536.23" font-size="10" text-anchor="middle">600</text>
<text x="288.66" y="405.33" font-size="10" text-anchor="middle" transform="rotate(-90 288.66 405.33)">600</text>
<text x="192.65" y="250.21" font-size="10" text-anchor="middle">800</text>
<text x="21.13" y="79.74" font-size="10" text-anchor="middle" transform="rotate(-90 21.13 79.74)">800</text>
<text x="460.98" y="536.46" font-size="10" text-anchor="middle">800</text>
<text x="288.88" y="367.15" font-size="10" text-anchor="middle" transform="rotate(-90 288.88 367.15)">800</text>
<text x="232.65" y="250.44" font-size="10" text-anchor="middle">1000</text>
<text x="21.35" y="41.47" font-size="10" text-anchor="middle" transform="rotate(-90 21.35 41.47)">1000</text>
<text x="500.7" y="536.69" font-size="10" text-anchor="middle">1000</text>
<text x="289.1" y="328.97" font-size="10" text-anchor="middle" transform="rotate(-90 289.1 328.97)">1000</text>
<text x="290.74" y="233.68" font-size="10" text-anchor="middle" transform="rotate(-90 290.74 233.68)">0</text>
<text x="290.97" y="194.24" font-size="10" text-anchor="middle" transform="rotate(-90 290.97 194.24)">160</text>
<text x="291.2" y="154.8" font-size="10" text-anchor="middle" transform="rotate(-90 291.2 154.8)">320</text>
<text x="291.43" y="115.36" font-size="10" text-anchor="middle" transform="rotate(-90 291.43 115.36)">480</text>
<text x="291.65" y="75.92" font-size="10" text-anchor="middle" transform="rotate(-90 291.65 75.92)">640</text>
<text x="291.88" y="36.48" font-size="10" text-anchor="middle" transform="rotate(-90 291.88 36.48)">800</text>
<text x="303.04" y="252.04" font-size="10" text-anchor="end">10</text>
<text x="305.04" y="245.44" font-size="10">0</text>
<text x="34.98" y="538.9" font-size="10" text-anchor="end">10</text>
<text x="36.98" y="532.3" font-size="10">0</text>
<g transform="translate(23.38 521.34) rotate(-90)"><text x="1.5" y="0" font-size="10" text-anchor="end">10</text><text x="4" y="-6.6" font-size="10">0</text></g>
<text x="355.04" y="252.34" font-size="10" text-anchor="end">10</text>
<text x="357.04" y="245.74" font-size="10">1</text>
<text x="86.43" y="539.2" font-size="10" text-anchor="end">10</text>
<text x="88.43" y="532.6" font-size="10">1</text>
<g transform="translate(23.66 472.54) rotate(-90)"><text x="1.5" y="0" font-size="10" text-anchor="end">10</text><text x="4" y="-6.6" font-size="10">1</text></g>
<text x="407.04" y="252.64" font-size="10" text-anchor="end">10</text>
<text x="409.04" y="246.04" font-size="10">2</text>
<text x="137.88" y="539.5" font-size="10" text-anchor="end">10</text>
<text x="139.88" y="532.9" font-size="10">2</text>
<g transform="translate(23.95 423.74) rotate(-90)"><text x="1.5" y="0" font-size="10" text-anchor="end">10</text><text x="4" y="-6.6" font-size="10">2</text></g>
<text x="459.04" y="252.94" font-size="10" text-anchor="end">10</text>
<text x="461.04" y="246.34" font-size="10">3</text>
<text x="189.33" y="539.79" font-size="10" text-anchor="end">10</text>
<text x="191.33" y="533.19" font-size="10">3</text>
<g transform="translate(24.23 374.94) rotate(-90)"><text x="1.5" y="0" font-size="10" text-anchor="end">10</text><text x="4" y="-6.6" font-size="10">3</text></g>
<text x="511.04" y="253.24" font-size="10" text-anchor="end">10</text>
<text x="513.04" y="246.64" font-size="10">4</text>
<text x="240.78" y="540.09" font-size="10" text-anchor="end">10</text>
<text x="242.78" y="533.49" font-size="10">4</text>
<g transform="translate(24.51 326.14) rotate(-90)"><text x="1.5" y="0" font-size="10" text-anchor="end">10</text><text x="4" y="-6.6" font-size="10">4</text></g>
</g>
<g stroke="#000" stroke-width="0.3">
<text x="128.63" y="262.24" font-size="10.4" font-weight="bold" text-anchor="middle">Forward Scatter</text>
<text x="9.77" y="141.46" font-size="10.4" font-weight="bold" text-anchor="middle" transform="rotate(-90 9.77 141.46)">Side Scatter</text>
<text x="402.08" y="262.12" font-size="10.4" font-weight="bold" text-anchor="middle">7-AAD</text>
<text x="280.89" y="138.12" font-size="10.4" font-weight="bold" text-anchor="middle" transform="rotate(-90 280.89 138.12)">Counts</text>
<text x="132.32" y="549.97" font-size="10.4" font-weight="bold" text-anchor="middle">CD34 FITC</text>
<text x="10.73" y="427.07" font-size="10.4" font-weight="bold" text-anchor="middle" transform="rotate(-90 10.73 427.07)">FGFR1 APC</text>
<text x="397.23" y="548.49" font-size="10.4" font-weight="bold" text-anchor="middle">Forward Scatter</text>
<text x="276.73" y="427.8" font-size="10.4" font-weight="bold" text-anchor="middle" transform="rotate(-90 276.73 427.8)">Side Scatter</text>
<text x="208.58" y="53.9" font-size="10" font-weight="bold" letter-spacing="1.8">R1</text>
<text x="475.58" y="54.04" font-size="10" font-weight="bold" letter-spacing="1.8">R1</text>
<text x="315.78" y="157.62" font-size="10" font-weight="bold" letter-spacing="1.8">R2</text>
<text x="44.21" y="342.51" font-size="10" font-weight="bold">R1</text>
<text x="63.91" y="342.62" font-size="10" font-weight="bold">AND</text>
<text x="92.91" y="342.79" font-size="10" font-weight="bold">R2</text>
<text x="125.91" y="377.43" font-size="10" font-weight="bold" letter-spacing="1.8">R3</text>
<text x="308.61" y="343.28" font-size="10" font-weight="bold">R1</text>
<text x="327.71" y="343.39" font-size="10" font-weight="bold">AND</text>
<text x="356.11" y="343.55" font-size="10" font-weight="bold">R2</text>
<text x="375.11" y="343.66" font-size="10" font-weight="bold">AND</text>
<text x="402.81" y="343.82" font-size="10" font-weight="bold">R3</text>
<text x="2.98" y="17.82" font-size="24" font-weight="bold">A</text>
<text x="270.98" y="18.56" font-size="24" font-weight="bold">B</text>
<text x="1.1" y="309.51" font-size="24" font-weight="bold">C</text>
<text x="266.09" y="311.84" font-size="24" font-weight="bold">D</text>
</g>
</g>
</svg>
</body></html>
